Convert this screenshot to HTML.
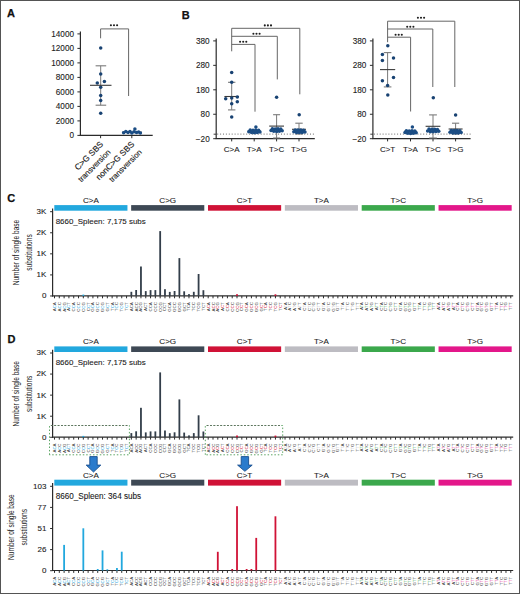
<!DOCTYPE html><html><head><meta charset="utf-8"><style>html,body{margin:0;padding:0;background:#fff;}svg{display:block;}text{font-family:"Liberation Sans", sans-serif;}</style></head><body>
<svg width="520" height="594" viewBox="0 0 520 594">
<rect x="0" y="0" width="520" height="594" fill="#fff"/>
<text x="7.1" y="16.8" font-size="11" font-weight="bold" fill="#111" stroke="#111" stroke-width="0.25">A</text>
<text x="181.7" y="18.5" font-size="11" font-weight="bold" fill="#111" stroke="#111" stroke-width="0.25">B</text>
<text x="7.2" y="201.7" font-size="11" font-weight="bold" fill="#111" stroke="#111" stroke-width="0.25">C</text>
<text x="7.4" y="343.1" font-size="11" font-weight="bold" fill="#111" stroke="#111" stroke-width="0.25">D</text>
<line x1="80.4" y1="31.4" x2="80.4" y2="136" stroke="#2b2b2b" stroke-width="1.2"/>
<line x1="79.8" y1="135.4" x2="152.7" y2="135.4" stroke="#2b2b2b" stroke-width="1.2"/>
<line x1="77.4" y1="135.4" x2="80.4" y2="135.4" stroke="#2b2b2b" stroke-width="1"/>
<text x="74" y="138.3" font-size="8.2" text-anchor="end" fill="#222" stroke="#222" stroke-width="0.1">0</text>
<line x1="77.4" y1="120.9" x2="80.4" y2="120.9" stroke="#2b2b2b" stroke-width="1"/>
<text x="74" y="123.8" font-size="8.2" text-anchor="end" fill="#222" stroke="#222" stroke-width="0.1">2000</text>
<line x1="77.4" y1="106.4" x2="80.4" y2="106.4" stroke="#2b2b2b" stroke-width="1"/>
<text x="74" y="109.3" font-size="8.2" text-anchor="end" fill="#222" stroke="#222" stroke-width="0.1">4000</text>
<line x1="77.4" y1="91.9" x2="80.4" y2="91.9" stroke="#2b2b2b" stroke-width="1"/>
<text x="74" y="94.8" font-size="8.2" text-anchor="end" fill="#222" stroke="#222" stroke-width="0.1">6000</text>
<line x1="77.4" y1="77.4" x2="80.4" y2="77.4" stroke="#2b2b2b" stroke-width="1"/>
<text x="74" y="80.3" font-size="8.2" text-anchor="end" fill="#222" stroke="#222" stroke-width="0.1">8000</text>
<line x1="77.4" y1="62.9" x2="80.4" y2="62.9" stroke="#2b2b2b" stroke-width="1"/>
<text x="74" y="65.8" font-size="8.2" text-anchor="end" fill="#222" stroke="#222" stroke-width="0.1">10000</text>
<line x1="77.4" y1="48.4" x2="80.4" y2="48.4" stroke="#2b2b2b" stroke-width="1"/>
<text x="74" y="51.3" font-size="8.2" text-anchor="end" fill="#222" stroke="#222" stroke-width="0.1">12000</text>
<line x1="77.4" y1="33.9" x2="80.4" y2="33.9" stroke="#2b2b2b" stroke-width="1"/>
<text x="74" y="36.8" font-size="8.2" text-anchor="end" fill="#222" stroke="#222" stroke-width="0.1">14000</text>
<line x1="100.6" y1="135.4" x2="100.6" y2="138.2" stroke="#2b2b2b" stroke-width="1"/>
<line x1="131.8" y1="135.4" x2="131.8" y2="138.2" stroke="#2b2b2b" stroke-width="1"/>
<path d="M100.6 38.3 V28.9 H128.6 V96" fill="none" stroke="#666666" stroke-width="1"/>
<circle cx="110.9" cy="25.3" r="1.05" fill="#1e1e1e"/>
<circle cx="114" cy="25.3" r="1.05" fill="#1e1e1e"/>
<circle cx="117.1" cy="25.3" r="1.05" fill="#1e1e1e"/>
<line x1="100.7" y1="65.8" x2="100.7" y2="105.2" stroke="#7a7a7a" stroke-width="1"/>
<line x1="95.6" y1="65.8" x2="106.2" y2="65.8" stroke="#7a7a7a" stroke-width="1.1"/>
<line x1="95.6" y1="105.2" x2="106.2" y2="105.2" stroke="#7a7a7a" stroke-width="1.1"/>
<circle cx="100.7" cy="48.1" r="1.75" fill="#184272"/>
<circle cx="100.7" cy="74.1" r="1.75" fill="#184272"/>
<circle cx="97.3" cy="83" r="1.75" fill="#184272"/>
<circle cx="104.4" cy="81.4" r="1.75" fill="#184272"/>
<circle cx="100.7" cy="87.3" r="1.75" fill="#184272"/>
<circle cx="100.7" cy="95.4" r="1.75" fill="#184272"/>
<circle cx="100.7" cy="100.4" r="1.75" fill="#184272"/>
<circle cx="100.7" cy="113.3" r="1.75" fill="#184272"/>
<line x1="90" y1="85.3" x2="111.5" y2="85.3" stroke="#3a3a3a" stroke-width="1.1"/>
<line x1="122" y1="132.2" x2="142" y2="132.2" stroke="#222" stroke-width="1"/>
<circle cx="123.6" cy="132.8" r="1.75" fill="#1b4d84"/>
<circle cx="125.8" cy="131.6" r="1.75" fill="#1b4d84"/>
<circle cx="128" cy="132.6" r="1.75" fill="#1b4d84"/>
<circle cx="130" cy="131.5" r="1.75" fill="#1b4d84"/>
<circle cx="131.8" cy="133" r="1.75" fill="#1b4d84"/>
<circle cx="134.9" cy="129.1" r="1.75" fill="#1b4d84"/>
<circle cx="134" cy="131.8" r="1.75" fill="#1b4d84"/>
<circle cx="136.5" cy="132.6" r="1.75" fill="#1b4d84"/>
<circle cx="138.6" cy="131.9" r="1.75" fill="#1b4d84"/>
<circle cx="140.4" cy="133" r="1.75" fill="#1b4d84"/>
<g transform="rotate(-45)" fill="#222" stroke="#222" stroke-width="0.15" text-anchor="end">
<text x="-29" y="175.8" font-size="8.4">C&gt;G SBS</text>
<text x="-29.3" y="186.5" font-size="7.8">transversion</text>
<text x="-7" y="197.8" font-size="8.4">nonC&gt;G SBS</text>
<text x="-7.3" y="208.5" font-size="7.8">transversion</text>
</g>
<line x1="216.2" y1="38.5" x2="216.2" y2="139" stroke="#2b2b2b" stroke-width="1.2"/>
<line x1="215.6" y1="138.7" x2="314.8" y2="138.7" stroke="#2b2b2b" stroke-width="1.2"/>
<line x1="213.6" y1="134.2" x2="216.2" y2="134.2" stroke="#2b2b2b" stroke-width="0.9"/>
<line x1="213.2" y1="40.9" x2="216.2" y2="40.9" stroke="#2b2b2b" stroke-width="1"/>
<text x="209.7" y="43.8" font-size="8.2" text-anchor="end" fill="#222" stroke="#222" stroke-width="0.1">380</text>
<line x1="213.2" y1="65.35" x2="216.2" y2="65.35" stroke="#2b2b2b" stroke-width="1"/>
<text x="209.7" y="68.25" font-size="8.2" text-anchor="end" fill="#222" stroke="#222" stroke-width="0.1">280</text>
<line x1="213.2" y1="89.8" x2="216.2" y2="89.8" stroke="#2b2b2b" stroke-width="1"/>
<text x="209.7" y="92.7" font-size="8.2" text-anchor="end" fill="#222" stroke="#222" stroke-width="0.1">180</text>
<line x1="213.2" y1="114.25" x2="216.2" y2="114.25" stroke="#2b2b2b" stroke-width="1"/>
<text x="209.7" y="117.15" font-size="8.2" text-anchor="end" fill="#222" stroke="#222" stroke-width="0.1">80</text>
<line x1="213.2" y1="138.7" x2="216.2" y2="138.7" stroke="#2b2b2b" stroke-width="1"/>
<text x="209.7" y="141.6" font-size="8.2" text-anchor="end" fill="#222" stroke="#222" stroke-width="0.1">−20</text>
<line x1="217.2" y1="134.1" x2="314.8" y2="134.1" stroke="#444" stroke-width="0.8" stroke-dasharray="1 1.9"/>
<line x1="231.7" y1="138.7" x2="231.7" y2="141.4" stroke="#2b2b2b" stroke-width="1"/>
<text x="231.7" y="151.5" font-size="8" text-anchor="middle" fill="#222" stroke="#222" stroke-width="0.1">C&gt;A</text>
<line x1="254.2" y1="138.7" x2="254.2" y2="141.4" stroke="#2b2b2b" stroke-width="1"/>
<text x="254.2" y="151.5" font-size="8" text-anchor="middle" fill="#222" stroke="#222" stroke-width="0.1">T&gt;A</text>
<line x1="276.6" y1="138.7" x2="276.6" y2="141.4" stroke="#2b2b2b" stroke-width="1"/>
<text x="276.6" y="151.5" font-size="8" text-anchor="middle" fill="#222" stroke="#222" stroke-width="0.1">T&gt;C</text>
<line x1="299" y1="138.7" x2="299" y2="141.4" stroke="#2b2b2b" stroke-width="1"/>
<text x="299" y="151.5" font-size="8" text-anchor="middle" fill="#222" stroke="#222" stroke-width="0.1">T&gt;G</text>
<path d="M231.7 28.3 H299.8 V94.3" fill="none" stroke="#666666" stroke-width="1"/>
<circle cx="264.8" cy="25.4" r="1.05" fill="#1e1e1e"/>
<circle cx="267.9" cy="25.4" r="1.05" fill="#1e1e1e"/>
<circle cx="271" cy="25.4" r="1.05" fill="#1e1e1e"/>
<path d="M231.7 36.3 H277.3 V79.4" fill="none" stroke="#666666" stroke-width="1"/>
<circle cx="253.4" cy="33.7" r="1.05" fill="#1e1e1e"/>
<circle cx="256.5" cy="33.7" r="1.05" fill="#1e1e1e"/>
<circle cx="259.6" cy="33.7" r="1.05" fill="#1e1e1e"/>
<path d="M231.7 44.4 H255 V111.7" fill="none" stroke="#666666" stroke-width="1"/>
<circle cx="240.1" cy="41.8" r="1.05" fill="#1e1e1e"/>
<circle cx="243.2" cy="41.8" r="1.05" fill="#1e1e1e"/>
<circle cx="246.3" cy="41.8" r="1.05" fill="#1e1e1e"/>
<line x1="231.7" y1="28.3" x2="231.7" y2="51.3" stroke="#666666" stroke-width="1"/>
<line x1="231.7" y1="82.3" x2="231.7" y2="109.9" stroke="#7a7a7a" stroke-width="1"/>
<line x1="228" y1="82.3" x2="235.4" y2="82.3" stroke="#7a7a7a" stroke-width="1.1"/>
<line x1="228" y1="109.9" x2="235.4" y2="109.9" stroke="#7a7a7a" stroke-width="1.1"/>
<line x1="224.4" y1="96.5" x2="239" y2="96.5" stroke="#3a3a3a" stroke-width="1.1"/>
<circle cx="231.7" cy="72.4" r="1.75" fill="#184272"/>
<circle cx="231.7" cy="82.3" r="1.75" fill="#184272"/>
<circle cx="225.7" cy="98.8" r="1.75" fill="#184272"/>
<circle cx="231.7" cy="98.1" r="1.75" fill="#184272"/>
<circle cx="237.3" cy="96.9" r="1.75" fill="#184272"/>
<circle cx="237.3" cy="101.7" r="1.75" fill="#184272"/>
<circle cx="231.7" cy="103.7" r="1.75" fill="#184272"/>
<circle cx="231.7" cy="117.1" r="1.75" fill="#184272"/>
<line x1="247.7" y1="131" x2="260.7" y2="131" stroke="#3a3a3a" stroke-width="1.1"/>
<circle cx="248.8" cy="131.8" r="1.75" fill="#1b4d84"/>
<circle cx="250.2" cy="130" r="1.75" fill="#1b4d84"/>
<circle cx="251.6" cy="132.6" r="1.75" fill="#1b4d84"/>
<circle cx="253" cy="130.2" r="1.75" fill="#1b4d84"/>
<circle cx="254.4" cy="132.7" r="1.75" fill="#1b4d84"/>
<circle cx="255.8" cy="130.1" r="1.75" fill="#1b4d84"/>
<circle cx="257.2" cy="132.5" r="1.75" fill="#1b4d84"/>
<circle cx="258.6" cy="130.3" r="1.75" fill="#1b4d84"/>
<circle cx="260" cy="132.1" r="1.75" fill="#1b4d84"/>
<circle cx="250.9" cy="131.5" r="1.75" fill="#1b4d84"/>
<circle cx="255.1" cy="131.4" r="1.75" fill="#1b4d84"/>
<circle cx="258" cy="131.6" r="1.75" fill="#1b4d84"/>
<circle cx="255.9" cy="126.9" r="1.75" fill="#1b4d84"/>
<line x1="276.6" y1="114.7" x2="276.6" y2="138" stroke="#7a7a7a" stroke-width="1"/>
<line x1="273.1" y1="114.7" x2="280.1" y2="114.7" stroke="#7a7a7a" stroke-width="1.1"/>
<line x1="273.1" y1="138" x2="280.1" y2="138" stroke="#7a7a7a" stroke-width="1.1"/>
<line x1="269.2" y1="126.1" x2="284" y2="126.1" stroke="#3a3a3a" stroke-width="1.1"/>
<circle cx="271" cy="130.5" r="1.75" fill="#1b4d84"/>
<circle cx="272.4" cy="128.7" r="1.75" fill="#1b4d84"/>
<circle cx="273.8" cy="131.3" r="1.75" fill="#1b4d84"/>
<circle cx="275.2" cy="128.9" r="1.75" fill="#1b4d84"/>
<circle cx="276.6" cy="131.4" r="1.75" fill="#1b4d84"/>
<circle cx="278" cy="128.8" r="1.75" fill="#1b4d84"/>
<circle cx="279.4" cy="131.2" r="1.75" fill="#1b4d84"/>
<circle cx="280.8" cy="129" r="1.75" fill="#1b4d84"/>
<circle cx="282.2" cy="130.8" r="1.75" fill="#1b4d84"/>
<circle cx="273.1" cy="130.2" r="1.75" fill="#1b4d84"/>
<circle cx="277.3" cy="130.1" r="1.75" fill="#1b4d84"/>
<circle cx="280.2" cy="130.3" r="1.75" fill="#1b4d84"/>
<circle cx="276.6" cy="97.3" r="1.75" fill="#184272"/>
<line x1="299" y1="123.2" x2="299" y2="134" stroke="#7a7a7a" stroke-width="1"/>
<line x1="295.3" y1="123.2" x2="302.7" y2="123.2" stroke="#7a7a7a" stroke-width="1.1"/>
<line x1="295.3" y1="134" x2="302.7" y2="134" stroke="#7a7a7a" stroke-width="1.1"/>
<line x1="292" y1="129.3" x2="306" y2="129.3" stroke="#3a3a3a" stroke-width="1.1"/>
<circle cx="293.8" cy="131.7" r="1.75" fill="#1b4d84"/>
<circle cx="295.2" cy="129.9" r="1.75" fill="#1b4d84"/>
<circle cx="296.6" cy="132.5" r="1.75" fill="#1b4d84"/>
<circle cx="298" cy="130.1" r="1.75" fill="#1b4d84"/>
<circle cx="299.4" cy="132.6" r="1.75" fill="#1b4d84"/>
<circle cx="300.8" cy="130" r="1.75" fill="#1b4d84"/>
<circle cx="302.2" cy="132.4" r="1.75" fill="#1b4d84"/>
<circle cx="303.6" cy="130.2" r="1.75" fill="#1b4d84"/>
<circle cx="305" cy="132" r="1.75" fill="#1b4d84"/>
<circle cx="295.9" cy="131.4" r="1.75" fill="#1b4d84"/>
<circle cx="300.1" cy="131.3" r="1.75" fill="#1b4d84"/>
<circle cx="303" cy="131.5" r="1.75" fill="#1b4d84"/>
<circle cx="299.2" cy="114.7" r="1.75" fill="#184272"/>
<line x1="372.9" y1="38.5" x2="372.9" y2="139" stroke="#2b2b2b" stroke-width="1.2"/>
<line x1="372.3" y1="138.7" x2="470.6" y2="138.7" stroke="#2b2b2b" stroke-width="1.2"/>
<line x1="370.3" y1="134.2" x2="372.9" y2="134.2" stroke="#2b2b2b" stroke-width="0.9"/>
<line x1="369.9" y1="40.9" x2="372.9" y2="40.9" stroke="#2b2b2b" stroke-width="1"/>
<text x="366.4" y="43.8" font-size="8.2" text-anchor="end" fill="#222" stroke="#222" stroke-width="0.1">380</text>
<line x1="369.9" y1="65.35" x2="372.9" y2="65.35" stroke="#2b2b2b" stroke-width="1"/>
<text x="366.4" y="68.25" font-size="8.2" text-anchor="end" fill="#222" stroke="#222" stroke-width="0.1">280</text>
<line x1="369.9" y1="89.8" x2="372.9" y2="89.8" stroke="#2b2b2b" stroke-width="1"/>
<text x="366.4" y="92.7" font-size="8.2" text-anchor="end" fill="#222" stroke="#222" stroke-width="0.1">180</text>
<line x1="369.9" y1="114.25" x2="372.9" y2="114.25" stroke="#2b2b2b" stroke-width="1"/>
<text x="366.4" y="117.15" font-size="8.2" text-anchor="end" fill="#222" stroke="#222" stroke-width="0.1">80</text>
<line x1="369.9" y1="138.7" x2="372.9" y2="138.7" stroke="#2b2b2b" stroke-width="1"/>
<text x="366.4" y="141.6" font-size="8.2" text-anchor="end" fill="#222" stroke="#222" stroke-width="0.1">−20</text>
<line x1="373.9" y1="134.1" x2="470.6" y2="134.1" stroke="#444" stroke-width="0.8" stroke-dasharray="1 1.9"/>
<line x1="387.6" y1="138.7" x2="387.6" y2="141.4" stroke="#2b2b2b" stroke-width="1"/>
<text x="387.6" y="151.5" font-size="8" text-anchor="middle" fill="#222" stroke="#222" stroke-width="0.1">C&gt;T</text>
<line x1="410.5" y1="138.7" x2="410.5" y2="141.4" stroke="#2b2b2b" stroke-width="1"/>
<text x="410.5" y="151.5" font-size="8" text-anchor="middle" fill="#222" stroke="#222" stroke-width="0.1">T&gt;A</text>
<line x1="433" y1="138.7" x2="433" y2="141.4" stroke="#2b2b2b" stroke-width="1"/>
<text x="433" y="151.5" font-size="8" text-anchor="middle" fill="#222" stroke="#222" stroke-width="0.1">T&gt;C</text>
<line x1="455.6" y1="138.7" x2="455.6" y2="141.4" stroke="#2b2b2b" stroke-width="1"/>
<text x="455.6" y="151.5" font-size="8" text-anchor="middle" fill="#222" stroke="#222" stroke-width="0.1">T&gt;G</text>
<path d="M387.6 21.2 H454.8 V87" fill="none" stroke="#666666" stroke-width="1"/>
<circle cx="417.9" cy="17.8" r="1.05" fill="#1e1e1e"/>
<circle cx="421" cy="17.8" r="1.05" fill="#1e1e1e"/>
<circle cx="424.1" cy="17.8" r="1.05" fill="#1e1e1e"/>
<path d="M387.6 29 H432.8 V87" fill="none" stroke="#666666" stroke-width="1"/>
<circle cx="407.2" cy="26.8" r="1.05" fill="#1e1e1e"/>
<circle cx="410.3" cy="26.8" r="1.05" fill="#1e1e1e"/>
<circle cx="413.4" cy="26.8" r="1.05" fill="#1e1e1e"/>
<path d="M387.6 37.2 H410.6 V111.5" fill="none" stroke="#666666" stroke-width="1"/>
<circle cx="395.6" cy="34.7" r="1.05" fill="#1e1e1e"/>
<circle cx="398.7" cy="34.7" r="1.05" fill="#1e1e1e"/>
<circle cx="401.8" cy="34.7" r="1.05" fill="#1e1e1e"/>
<line x1="387.6" y1="21.2" x2="387.6" y2="42.2" stroke="#666666" stroke-width="1"/>
<line x1="387.6" y1="52.6" x2="387.6" y2="86.9" stroke="#7a7a7a" stroke-width="1"/>
<line x1="383.8" y1="52.6" x2="391.4" y2="52.6" stroke="#7a7a7a" stroke-width="1.1"/>
<line x1="383.8" y1="86.9" x2="391.4" y2="86.9" stroke="#7a7a7a" stroke-width="1.1"/>
<line x1="380" y1="69.6" x2="395.2" y2="69.6" stroke="#3a3a3a" stroke-width="1.1"/>
<circle cx="387.8" cy="45.8" r="1.75" fill="#184272"/>
<circle cx="382.4" cy="54.5" r="1.75" fill="#184272"/>
<circle cx="393.5" cy="57.9" r="1.75" fill="#184272"/>
<circle cx="382.4" cy="60.5" r="1.75" fill="#184272"/>
<circle cx="393.5" cy="77.5" r="1.75" fill="#184272"/>
<circle cx="382.4" cy="80.8" r="1.75" fill="#184272"/>
<circle cx="387.6" cy="85.5" r="1.75" fill="#184272"/>
<circle cx="387.8" cy="94.9" r="1.75" fill="#184272"/>
<line x1="404" y1="131.3" x2="417" y2="131.3" stroke="#3a3a3a" stroke-width="1.1"/>
<circle cx="405" cy="132.5" r="1.75" fill="#1b4d84"/>
<circle cx="406.4" cy="130.7" r="1.75" fill="#1b4d84"/>
<circle cx="407.8" cy="133.3" r="1.75" fill="#1b4d84"/>
<circle cx="409.2" cy="130.9" r="1.75" fill="#1b4d84"/>
<circle cx="410.6" cy="133.4" r="1.75" fill="#1b4d84"/>
<circle cx="412" cy="130.8" r="1.75" fill="#1b4d84"/>
<circle cx="413.4" cy="133.2" r="1.75" fill="#1b4d84"/>
<circle cx="414.8" cy="131" r="1.75" fill="#1b4d84"/>
<circle cx="416.2" cy="132.8" r="1.75" fill="#1b4d84"/>
<circle cx="407.1" cy="132.2" r="1.75" fill="#1b4d84"/>
<circle cx="411.3" cy="132.1" r="1.75" fill="#1b4d84"/>
<circle cx="414.2" cy="132.3" r="1.75" fill="#1b4d84"/>
<circle cx="412.4" cy="127" r="1.75" fill="#1b4d84"/>
<line x1="433" y1="114.9" x2="433" y2="138" stroke="#7a7a7a" stroke-width="1"/>
<line x1="429.1" y1="114.9" x2="436.9" y2="114.9" stroke="#7a7a7a" stroke-width="1.1"/>
<line x1="429.1" y1="138" x2="436.9" y2="138" stroke="#7a7a7a" stroke-width="1.1"/>
<line x1="425.6" y1="126.3" x2="440.4" y2="126.3" stroke="#3a3a3a" stroke-width="1.1"/>
<circle cx="427.6" cy="130.9" r="1.75" fill="#1b4d84"/>
<circle cx="429" cy="129.1" r="1.75" fill="#1b4d84"/>
<circle cx="430.4" cy="131.7" r="1.75" fill="#1b4d84"/>
<circle cx="431.8" cy="129.3" r="1.75" fill="#1b4d84"/>
<circle cx="433.2" cy="131.8" r="1.75" fill="#1b4d84"/>
<circle cx="434.6" cy="129.2" r="1.75" fill="#1b4d84"/>
<circle cx="436" cy="131.6" r="1.75" fill="#1b4d84"/>
<circle cx="437.4" cy="129.4" r="1.75" fill="#1b4d84"/>
<circle cx="438.8" cy="131.2" r="1.75" fill="#1b4d84"/>
<circle cx="429.7" cy="130.6" r="1.75" fill="#1b4d84"/>
<circle cx="433.9" cy="130.5" r="1.75" fill="#1b4d84"/>
<circle cx="436.8" cy="130.7" r="1.75" fill="#1b4d84"/>
<circle cx="433.3" cy="97.7" r="1.75" fill="#184272"/>
<line x1="455.6" y1="123.2" x2="455.6" y2="134" stroke="#7a7a7a" stroke-width="1"/>
<line x1="452" y1="123.2" x2="459.2" y2="123.2" stroke="#7a7a7a" stroke-width="1.1"/>
<line x1="452" y1="134" x2="459.2" y2="134" stroke="#7a7a7a" stroke-width="1.1"/>
<line x1="448.6" y1="129" x2="462.6" y2="129" stroke="#3a3a3a" stroke-width="1.1"/>
<circle cx="450" cy="132.2" r="1.75" fill="#1b4d84"/>
<circle cx="451.4" cy="130.4" r="1.75" fill="#1b4d84"/>
<circle cx="452.8" cy="133" r="1.75" fill="#1b4d84"/>
<circle cx="454.2" cy="130.6" r="1.75" fill="#1b4d84"/>
<circle cx="455.6" cy="133.1" r="1.75" fill="#1b4d84"/>
<circle cx="457" cy="130.5" r="1.75" fill="#1b4d84"/>
<circle cx="458.4" cy="132.9" r="1.75" fill="#1b4d84"/>
<circle cx="459.8" cy="130.7" r="1.75" fill="#1b4d84"/>
<circle cx="461.2" cy="132.5" r="1.75" fill="#1b4d84"/>
<circle cx="452.1" cy="131.9" r="1.75" fill="#1b4d84"/>
<circle cx="456.3" cy="131.8" r="1.75" fill="#1b4d84"/>
<circle cx="459.2" cy="132" r="1.75" fill="#1b4d84"/>
<circle cx="455.6" cy="114.9" r="1.75" fill="#184272"/>
<rect x="54.3" y="205.1" width="73.15" height="5.6" fill="#22a8de"/>
<text x="90.87" y="203.1" font-size="8.1" text-anchor="middle" fill="#222" stroke="#222" stroke-width="0.1">C&gt;A</text>
<rect x="131.15" y="205.1" width="73.14" height="5.6" fill="#3e4955"/>
<text x="167.72" y="203.1" font-size="8.1" text-anchor="middle" fill="#222" stroke="#222" stroke-width="0.1">C&gt;G</text>
<rect x="208" y="205.1" width="73.14" height="5.6" fill="#d01236"/>
<text x="244.57" y="203.1" font-size="8.1" text-anchor="middle" fill="#222" stroke="#222" stroke-width="0.1">C&gt;T</text>
<rect x="284.84" y="205.1" width="73.14" height="5.6" fill="#bdbcc2"/>
<text x="321.42" y="203.1" font-size="8.1" text-anchor="middle" fill="#222" stroke="#222" stroke-width="0.1">T&gt;A</text>
<rect x="361.69" y="205.1" width="73.14" height="5.6" fill="#3ba84c"/>
<text x="398.26" y="203.1" font-size="8.1" text-anchor="middle" fill="#222" stroke="#222" stroke-width="0.1">T&gt;C</text>
<rect x="438.54" y="205.1" width="73.14" height="5.6" fill="#e3178a"/>
<text x="475.11" y="203.1" font-size="8.1" text-anchor="middle" fill="#222" stroke="#222" stroke-width="0.1">T&gt;G</text>
<line x1="52.6" y1="208.4" x2="52.6" y2="296.5" stroke="#2b2b2b" stroke-width="1.2"/>
<line x1="52" y1="295.9" x2="513.2" y2="295.9" stroke="#2b2b2b" stroke-width="1.2"/>
<line x1="50.1" y1="211.7" x2="52.6" y2="211.7" stroke="#2b2b2b" stroke-width="1"/>
<text x="46.4" y="214.1" font-size="8" text-anchor="end" fill="#222" stroke="#222" stroke-width="0.1">3K</text>
<line x1="50.1" y1="232.77" x2="52.6" y2="232.77" stroke="#2b2b2b" stroke-width="1"/>
<text x="46.4" y="235.17" font-size="8" text-anchor="end" fill="#222" stroke="#222" stroke-width="0.1">2K</text>
<line x1="50.1" y1="253.84" x2="52.6" y2="253.84" stroke="#2b2b2b" stroke-width="1"/>
<text x="46.4" y="256.24" font-size="8" text-anchor="end" fill="#222" stroke="#222" stroke-width="0.1">1K</text>
<line x1="50.1" y1="274.91" x2="52.6" y2="274.91" stroke="#2b2b2b" stroke-width="1"/>
<text x="46.4" y="277.31" font-size="8" text-anchor="end" fill="#222" stroke="#222" stroke-width="0.1">1K</text>
<line x1="50.1" y1="295.98" x2="52.6" y2="295.98" stroke="#2b2b2b" stroke-width="1"/>
<text x="46.4" y="298.38" font-size="8" text-anchor="end" fill="#222" stroke="#222" stroke-width="0.1">0</text>
<line x1="54.5" y1="295.9" x2="54.5" y2="298.3" stroke="#2b2b2b" stroke-width="1"/>
<line x1="59.3" y1="295.9" x2="59.3" y2="298.3" stroke="#2b2b2b" stroke-width="1"/>
<line x1="64.11" y1="295.9" x2="64.11" y2="298.3" stroke="#2b2b2b" stroke-width="1"/>
<line x1="68.91" y1="295.9" x2="68.91" y2="298.3" stroke="#2b2b2b" stroke-width="1"/>
<line x1="73.71" y1="295.9" x2="73.71" y2="298.3" stroke="#2b2b2b" stroke-width="1"/>
<line x1="78.52" y1="295.9" x2="78.52" y2="298.3" stroke="#2b2b2b" stroke-width="1"/>
<line x1="83.32" y1="295.9" x2="83.32" y2="298.3" stroke="#2b2b2b" stroke-width="1"/>
<rect x="82.42" y="294.6" width="1.8" height="1.3" fill="#22a8de"/>
<line x1="88.12" y1="295.9" x2="88.12" y2="298.3" stroke="#2b2b2b" stroke-width="1"/>
<line x1="92.92" y1="295.9" x2="92.92" y2="298.3" stroke="#2b2b2b" stroke-width="1"/>
<line x1="97.73" y1="295.9" x2="97.73" y2="298.3" stroke="#2b2b2b" stroke-width="1"/>
<line x1="102.53" y1="295.9" x2="102.53" y2="298.3" stroke="#2b2b2b" stroke-width="1"/>
<line x1="107.33" y1="295.9" x2="107.33" y2="298.3" stroke="#2b2b2b" stroke-width="1"/>
<line x1="112.14" y1="295.9" x2="112.14" y2="298.3" stroke="#2b2b2b" stroke-width="1"/>
<line x1="116.94" y1="295.9" x2="116.94" y2="298.3" stroke="#2b2b2b" stroke-width="1"/>
<line x1="121.74" y1="295.9" x2="121.74" y2="298.3" stroke="#2b2b2b" stroke-width="1"/>
<line x1="126.55" y1="295.9" x2="126.55" y2="298.3" stroke="#2b2b2b" stroke-width="1"/>
<line x1="131.35" y1="295.9" x2="131.35" y2="298.3" stroke="#2b2b2b" stroke-width="1"/>
<rect x="130.45" y="291.8" width="1.8" height="4.1" fill="#333e4a"/>
<line x1="136.15" y1="295.9" x2="136.15" y2="298.3" stroke="#2b2b2b" stroke-width="1"/>
<rect x="135.25" y="290" width="1.8" height="5.9" fill="#333e4a"/>
<line x1="140.95" y1="295.9" x2="140.95" y2="298.3" stroke="#2b2b2b" stroke-width="1"/>
<rect x="140.05" y="266.5" width="1.8" height="29.4" fill="#333e4a"/>
<line x1="145.76" y1="295.9" x2="145.76" y2="298.3" stroke="#2b2b2b" stroke-width="1"/>
<rect x="144.86" y="291.1" width="1.8" height="4.8" fill="#333e4a"/>
<line x1="150.56" y1="295.9" x2="150.56" y2="298.3" stroke="#2b2b2b" stroke-width="1"/>
<rect x="149.66" y="290.1" width="1.8" height="5.8" fill="#333e4a"/>
<line x1="155.36" y1="295.9" x2="155.36" y2="298.3" stroke="#2b2b2b" stroke-width="1"/>
<rect x="154.46" y="290.1" width="1.8" height="5.8" fill="#333e4a"/>
<line x1="160.17" y1="295.9" x2="160.17" y2="298.3" stroke="#2b2b2b" stroke-width="1"/>
<rect x="159.27" y="231.1" width="1.8" height="64.8" fill="#333e4a"/>
<line x1="164.97" y1="295.9" x2="164.97" y2="298.3" stroke="#2b2b2b" stroke-width="1"/>
<rect x="164.07" y="289.2" width="1.8" height="6.7" fill="#333e4a"/>
<line x1="169.77" y1="295.9" x2="169.77" y2="298.3" stroke="#2b2b2b" stroke-width="1"/>
<rect x="168.87" y="291.9" width="1.8" height="4" fill="#333e4a"/>
<line x1="174.57" y1="295.9" x2="174.57" y2="298.3" stroke="#2b2b2b" stroke-width="1"/>
<rect x="173.67" y="291" width="1.8" height="4.9" fill="#333e4a"/>
<line x1="179.38" y1="295.9" x2="179.38" y2="298.3" stroke="#2b2b2b" stroke-width="1"/>
<rect x="178.48" y="258.1" width="1.8" height="37.8" fill="#333e4a"/>
<line x1="184.18" y1="295.9" x2="184.18" y2="298.3" stroke="#2b2b2b" stroke-width="1"/>
<rect x="183.28" y="291.3" width="1.8" height="4.6" fill="#333e4a"/>
<line x1="188.98" y1="295.9" x2="188.98" y2="298.3" stroke="#2b2b2b" stroke-width="1"/>
<rect x="188.08" y="294.1" width="1.8" height="1.8" fill="#333e4a"/>
<line x1="193.79" y1="295.9" x2="193.79" y2="298.3" stroke="#2b2b2b" stroke-width="1"/>
<rect x="192.89" y="291.8" width="1.8" height="4.1" fill="#333e4a"/>
<line x1="198.59" y1="295.9" x2="198.59" y2="298.3" stroke="#2b2b2b" stroke-width="1"/>
<rect x="197.69" y="274" width="1.8" height="21.9" fill="#333e4a"/>
<line x1="203.39" y1="295.9" x2="203.39" y2="298.3" stroke="#2b2b2b" stroke-width="1"/>
<rect x="202.49" y="290.2" width="1.8" height="5.7" fill="#333e4a"/>
<line x1="208.2" y1="295.9" x2="208.2" y2="298.3" stroke="#2b2b2b" stroke-width="1"/>
<line x1="213" y1="295.9" x2="213" y2="298.3" stroke="#2b2b2b" stroke-width="1"/>
<line x1="217.8" y1="295.9" x2="217.8" y2="298.3" stroke="#2b2b2b" stroke-width="1"/>
<line x1="222.6" y1="295.9" x2="222.6" y2="298.3" stroke="#2b2b2b" stroke-width="1"/>
<line x1="227.41" y1="295.9" x2="227.41" y2="298.3" stroke="#2b2b2b" stroke-width="1"/>
<line x1="232.21" y1="295.9" x2="232.21" y2="298.3" stroke="#2b2b2b" stroke-width="1"/>
<line x1="237.01" y1="295.9" x2="237.01" y2="298.3" stroke="#2b2b2b" stroke-width="1"/>
<rect x="236.11" y="294.2" width="1.8" height="1.7" fill="#d01236"/>
<line x1="241.82" y1="295.9" x2="241.82" y2="298.3" stroke="#2b2b2b" stroke-width="1"/>
<line x1="246.62" y1="295.9" x2="246.62" y2="298.3" stroke="#2b2b2b" stroke-width="1"/>
<line x1="251.42" y1="295.9" x2="251.42" y2="298.3" stroke="#2b2b2b" stroke-width="1"/>
<line x1="256.23" y1="295.9" x2="256.23" y2="298.3" stroke="#2b2b2b" stroke-width="1"/>
<line x1="261.03" y1="295.9" x2="261.03" y2="298.3" stroke="#2b2b2b" stroke-width="1"/>
<line x1="265.83" y1="295.9" x2="265.83" y2="298.3" stroke="#2b2b2b" stroke-width="1"/>
<line x1="270.63" y1="295.9" x2="270.63" y2="298.3" stroke="#2b2b2b" stroke-width="1"/>
<line x1="275.44" y1="295.9" x2="275.44" y2="298.3" stroke="#2b2b2b" stroke-width="1"/>
<rect x="274.54" y="294.3" width="1.8" height="1.6" fill="#d01236"/>
<line x1="280.24" y1="295.9" x2="280.24" y2="298.3" stroke="#2b2b2b" stroke-width="1"/>
<line x1="285.04" y1="295.9" x2="285.04" y2="298.3" stroke="#2b2b2b" stroke-width="1"/>
<line x1="289.85" y1="295.9" x2="289.85" y2="298.3" stroke="#2b2b2b" stroke-width="1"/>
<line x1="294.65" y1="295.9" x2="294.65" y2="298.3" stroke="#2b2b2b" stroke-width="1"/>
<line x1="299.45" y1="295.9" x2="299.45" y2="298.3" stroke="#2b2b2b" stroke-width="1"/>
<line x1="304.26" y1="295.9" x2="304.26" y2="298.3" stroke="#2b2b2b" stroke-width="1"/>
<line x1="309.06" y1="295.9" x2="309.06" y2="298.3" stroke="#2b2b2b" stroke-width="1"/>
<line x1="313.86" y1="295.9" x2="313.86" y2="298.3" stroke="#2b2b2b" stroke-width="1"/>
<line x1="318.67" y1="295.9" x2="318.67" y2="298.3" stroke="#2b2b2b" stroke-width="1"/>
<line x1="323.47" y1="295.9" x2="323.47" y2="298.3" stroke="#2b2b2b" stroke-width="1"/>
<line x1="328.27" y1="295.9" x2="328.27" y2="298.3" stroke="#2b2b2b" stroke-width="1"/>
<line x1="333.07" y1="295.9" x2="333.07" y2="298.3" stroke="#2b2b2b" stroke-width="1"/>
<line x1="337.88" y1="295.9" x2="337.88" y2="298.3" stroke="#2b2b2b" stroke-width="1"/>
<line x1="342.68" y1="295.9" x2="342.68" y2="298.3" stroke="#2b2b2b" stroke-width="1"/>
<line x1="347.48" y1="295.9" x2="347.48" y2="298.3" stroke="#2b2b2b" stroke-width="1"/>
<line x1="352.29" y1="295.9" x2="352.29" y2="298.3" stroke="#2b2b2b" stroke-width="1"/>
<line x1="357.09" y1="295.9" x2="357.09" y2="298.3" stroke="#2b2b2b" stroke-width="1"/>
<line x1="361.89" y1="295.9" x2="361.89" y2="298.3" stroke="#2b2b2b" stroke-width="1"/>
<line x1="366.69" y1="295.9" x2="366.69" y2="298.3" stroke="#2b2b2b" stroke-width="1"/>
<line x1="371.5" y1="295.9" x2="371.5" y2="298.3" stroke="#2b2b2b" stroke-width="1"/>
<line x1="376.3" y1="295.9" x2="376.3" y2="298.3" stroke="#2b2b2b" stroke-width="1"/>
<line x1="381.1" y1="295.9" x2="381.1" y2="298.3" stroke="#2b2b2b" stroke-width="1"/>
<line x1="385.91" y1="295.9" x2="385.91" y2="298.3" stroke="#2b2b2b" stroke-width="1"/>
<line x1="390.71" y1="295.9" x2="390.71" y2="298.3" stroke="#2b2b2b" stroke-width="1"/>
<line x1="395.51" y1="295.9" x2="395.51" y2="298.3" stroke="#2b2b2b" stroke-width="1"/>
<line x1="400.32" y1="295.9" x2="400.32" y2="298.3" stroke="#2b2b2b" stroke-width="1"/>
<line x1="405.12" y1="295.9" x2="405.12" y2="298.3" stroke="#2b2b2b" stroke-width="1"/>
<line x1="409.92" y1="295.9" x2="409.92" y2="298.3" stroke="#2b2b2b" stroke-width="1"/>
<line x1="414.73" y1="295.9" x2="414.73" y2="298.3" stroke="#2b2b2b" stroke-width="1"/>
<line x1="419.53" y1="295.9" x2="419.53" y2="298.3" stroke="#2b2b2b" stroke-width="1"/>
<line x1="424.33" y1="295.9" x2="424.33" y2="298.3" stroke="#2b2b2b" stroke-width="1"/>
<line x1="429.13" y1="295.9" x2="429.13" y2="298.3" stroke="#2b2b2b" stroke-width="1"/>
<line x1="433.94" y1="295.9" x2="433.94" y2="298.3" stroke="#2b2b2b" stroke-width="1"/>
<line x1="438.74" y1="295.9" x2="438.74" y2="298.3" stroke="#2b2b2b" stroke-width="1"/>
<line x1="443.54" y1="295.9" x2="443.54" y2="298.3" stroke="#2b2b2b" stroke-width="1"/>
<line x1="448.35" y1="295.9" x2="448.35" y2="298.3" stroke="#2b2b2b" stroke-width="1"/>
<line x1="453.15" y1="295.9" x2="453.15" y2="298.3" stroke="#2b2b2b" stroke-width="1"/>
<line x1="457.95" y1="295.9" x2="457.95" y2="298.3" stroke="#2b2b2b" stroke-width="1"/>
<line x1="462.75" y1="295.9" x2="462.75" y2="298.3" stroke="#2b2b2b" stroke-width="1"/>
<line x1="467.56" y1="295.9" x2="467.56" y2="298.3" stroke="#2b2b2b" stroke-width="1"/>
<line x1="472.36" y1="295.9" x2="472.36" y2="298.3" stroke="#2b2b2b" stroke-width="1"/>
<line x1="477.16" y1="295.9" x2="477.16" y2="298.3" stroke="#2b2b2b" stroke-width="1"/>
<line x1="481.97" y1="295.9" x2="481.97" y2="298.3" stroke="#2b2b2b" stroke-width="1"/>
<line x1="486.77" y1="295.9" x2="486.77" y2="298.3" stroke="#2b2b2b" stroke-width="1"/>
<line x1="491.57" y1="295.9" x2="491.57" y2="298.3" stroke="#2b2b2b" stroke-width="1"/>
<line x1="496.38" y1="295.9" x2="496.38" y2="298.3" stroke="#2b2b2b" stroke-width="1"/>
<line x1="501.18" y1="295.9" x2="501.18" y2="298.3" stroke="#2b2b2b" stroke-width="1"/>
<line x1="505.98" y1="295.9" x2="505.98" y2="298.3" stroke="#2b2b2b" stroke-width="1"/>
<line x1="510.78" y1="295.9" x2="510.78" y2="298.3" stroke="#2b2b2b" stroke-width="1"/>
<g font-size="4.4" text-anchor="end">
<text transform="translate(56 302.2) rotate(-90)" fill="#333">A<tspan fill="#22a8de">C</tspan>A</text>
<text transform="translate(60.8 302.2) rotate(-90)" fill="#333">A<tspan fill="#22a8de">C</tspan>C</text>
<text transform="translate(65.61 302.2) rotate(-90)" fill="#333">A<tspan fill="#22a8de">C</tspan>G</text>
<text transform="translate(70.41 302.2) rotate(-90)" fill="#333">A<tspan fill="#22a8de">C</tspan>T</text>
<text transform="translate(75.21 302.2) rotate(-90)" fill="#333">C<tspan fill="#22a8de">C</tspan>A</text>
<text transform="translate(80.02 302.2) rotate(-90)" fill="#333">C<tspan fill="#22a8de">C</tspan>C</text>
<text transform="translate(84.82 302.2) rotate(-90)" fill="#333">C<tspan fill="#22a8de">C</tspan>G</text>
<text transform="translate(89.62 302.2) rotate(-90)" fill="#333">C<tspan fill="#22a8de">C</tspan>T</text>
<text transform="translate(94.42 302.2) rotate(-90)" fill="#333">G<tspan fill="#22a8de">C</tspan>A</text>
<text transform="translate(99.23 302.2) rotate(-90)" fill="#333">G<tspan fill="#22a8de">C</tspan>C</text>
<text transform="translate(104.03 302.2) rotate(-90)" fill="#333">G<tspan fill="#22a8de">C</tspan>G</text>
<text transform="translate(108.83 302.2) rotate(-90)" fill="#333">G<tspan fill="#22a8de">C</tspan>T</text>
<text transform="translate(113.64 302.2) rotate(-90)" fill="#333">T<tspan fill="#22a8de">C</tspan>A</text>
<text transform="translate(118.44 302.2) rotate(-90)" fill="#333">T<tspan fill="#22a8de">C</tspan>C</text>
<text transform="translate(123.24 302.2) rotate(-90)" fill="#333">T<tspan fill="#22a8de">C</tspan>G</text>
<text transform="translate(128.05 302.2) rotate(-90)" fill="#333">T<tspan fill="#22a8de">C</tspan>T</text>
<text transform="translate(132.85 302.2) rotate(-90)" fill="#333">A<tspan fill="#3e4955">C</tspan>A</text>
<text transform="translate(137.65 302.2) rotate(-90)" fill="#333">A<tspan fill="#3e4955">C</tspan>C</text>
<text transform="translate(142.45 302.2) rotate(-90)" fill="#333">A<tspan fill="#3e4955">C</tspan>G</text>
<text transform="translate(147.26 302.2) rotate(-90)" fill="#333">A<tspan fill="#3e4955">C</tspan>T</text>
<text transform="translate(152.06 302.2) rotate(-90)" fill="#333">C<tspan fill="#3e4955">C</tspan>A</text>
<text transform="translate(156.86 302.2) rotate(-90)" fill="#333">C<tspan fill="#3e4955">C</tspan>C</text>
<text transform="translate(161.67 302.2) rotate(-90)" fill="#333">C<tspan fill="#3e4955">C</tspan>G</text>
<text transform="translate(166.47 302.2) rotate(-90)" fill="#333">C<tspan fill="#3e4955">C</tspan>T</text>
<text transform="translate(171.27 302.2) rotate(-90)" fill="#333">G<tspan fill="#3e4955">C</tspan>A</text>
<text transform="translate(176.07 302.2) rotate(-90)" fill="#333">G<tspan fill="#3e4955">C</tspan>C</text>
<text transform="translate(180.88 302.2) rotate(-90)" fill="#333">G<tspan fill="#3e4955">C</tspan>G</text>
<text transform="translate(185.68 302.2) rotate(-90)" fill="#333">G<tspan fill="#3e4955">C</tspan>T</text>
<text transform="translate(190.48 302.2) rotate(-90)" fill="#333">T<tspan fill="#3e4955">C</tspan>A</text>
<text transform="translate(195.29 302.2) rotate(-90)" fill="#333">T<tspan fill="#3e4955">C</tspan>C</text>
<text transform="translate(200.09 302.2) rotate(-90)" fill="#333">T<tspan fill="#3e4955">C</tspan>G</text>
<text transform="translate(204.89 302.2) rotate(-90)" fill="#333">T<tspan fill="#3e4955">C</tspan>T</text>
<text transform="translate(209.7 302.2) rotate(-90)" fill="#333">A<tspan fill="#d01236">C</tspan>A</text>
<text transform="translate(214.5 302.2) rotate(-90)" fill="#333">A<tspan fill="#d01236">C</tspan>C</text>
<text transform="translate(219.3 302.2) rotate(-90)" fill="#333">A<tspan fill="#d01236">C</tspan>G</text>
<text transform="translate(224.1 302.2) rotate(-90)" fill="#333">A<tspan fill="#d01236">C</tspan>T</text>
<text transform="translate(228.91 302.2) rotate(-90)" fill="#333">C<tspan fill="#d01236">C</tspan>A</text>
<text transform="translate(233.71 302.2) rotate(-90)" fill="#333">C<tspan fill="#d01236">C</tspan>C</text>
<text transform="translate(238.51 302.2) rotate(-90)" fill="#333">C<tspan fill="#d01236">C</tspan>G</text>
<text transform="translate(243.32 302.2) rotate(-90)" fill="#333">C<tspan fill="#d01236">C</tspan>T</text>
<text transform="translate(248.12 302.2) rotate(-90)" fill="#333">G<tspan fill="#d01236">C</tspan>A</text>
<text transform="translate(252.92 302.2) rotate(-90)" fill="#333">G<tspan fill="#d01236">C</tspan>C</text>
<text transform="translate(257.73 302.2) rotate(-90)" fill="#333">G<tspan fill="#d01236">C</tspan>G</text>
<text transform="translate(262.53 302.2) rotate(-90)" fill="#333">G<tspan fill="#d01236">C</tspan>T</text>
<text transform="translate(267.33 302.2) rotate(-90)" fill="#333">T<tspan fill="#d01236">C</tspan>A</text>
<text transform="translate(272.13 302.2) rotate(-90)" fill="#333">T<tspan fill="#d01236">C</tspan>C</text>
<text transform="translate(276.94 302.2) rotate(-90)" fill="#333">T<tspan fill="#d01236">C</tspan>G</text>
<text transform="translate(281.74 302.2) rotate(-90)" fill="#333">T<tspan fill="#d01236">C</tspan>T</text>
<text transform="translate(286.54 302.2) rotate(-90)" fill="#333">A<tspan fill="#bdbcc2">T</tspan>A</text>
<text transform="translate(291.35 302.2) rotate(-90)" fill="#333">A<tspan fill="#bdbcc2">T</tspan>C</text>
<text transform="translate(296.15 302.2) rotate(-90)" fill="#333">A<tspan fill="#bdbcc2">T</tspan>G</text>
<text transform="translate(300.95 302.2) rotate(-90)" fill="#333">A<tspan fill="#bdbcc2">T</tspan>T</text>
<text transform="translate(305.76 302.2) rotate(-90)" fill="#333">C<tspan fill="#bdbcc2">T</tspan>A</text>
<text transform="translate(310.56 302.2) rotate(-90)" fill="#333">C<tspan fill="#bdbcc2">T</tspan>C</text>
<text transform="translate(315.36 302.2) rotate(-90)" fill="#333">C<tspan fill="#bdbcc2">T</tspan>G</text>
<text transform="translate(320.17 302.2) rotate(-90)" fill="#333">C<tspan fill="#bdbcc2">T</tspan>T</text>
<text transform="translate(324.97 302.2) rotate(-90)" fill="#333">G<tspan fill="#bdbcc2">T</tspan>A</text>
<text transform="translate(329.77 302.2) rotate(-90)" fill="#333">G<tspan fill="#bdbcc2">T</tspan>C</text>
<text transform="translate(334.57 302.2) rotate(-90)" fill="#333">G<tspan fill="#bdbcc2">T</tspan>G</text>
<text transform="translate(339.38 302.2) rotate(-90)" fill="#333">G<tspan fill="#bdbcc2">T</tspan>T</text>
<text transform="translate(344.18 302.2) rotate(-90)" fill="#333">T<tspan fill="#bdbcc2">T</tspan>A</text>
<text transform="translate(348.98 302.2) rotate(-90)" fill="#333">T<tspan fill="#bdbcc2">T</tspan>C</text>
<text transform="translate(353.79 302.2) rotate(-90)" fill="#333">T<tspan fill="#bdbcc2">T</tspan>G</text>
<text transform="translate(358.59 302.2) rotate(-90)" fill="#333">T<tspan fill="#bdbcc2">T</tspan>T</text>
<text transform="translate(363.39 302.2) rotate(-90)" fill="#333">A<tspan fill="#3ba84c">T</tspan>A</text>
<text transform="translate(368.19 302.2) rotate(-90)" fill="#333">A<tspan fill="#3ba84c">T</tspan>C</text>
<text transform="translate(373 302.2) rotate(-90)" fill="#333">A<tspan fill="#3ba84c">T</tspan>G</text>
<text transform="translate(377.8 302.2) rotate(-90)" fill="#333">A<tspan fill="#3ba84c">T</tspan>T</text>
<text transform="translate(382.6 302.2) rotate(-90)" fill="#333">C<tspan fill="#3ba84c">T</tspan>A</text>
<text transform="translate(387.41 302.2) rotate(-90)" fill="#333">C<tspan fill="#3ba84c">T</tspan>C</text>
<text transform="translate(392.21 302.2) rotate(-90)" fill="#333">C<tspan fill="#3ba84c">T</tspan>G</text>
<text transform="translate(397.01 302.2) rotate(-90)" fill="#333">C<tspan fill="#3ba84c">T</tspan>T</text>
<text transform="translate(401.82 302.2) rotate(-90)" fill="#333">G<tspan fill="#3ba84c">T</tspan>A</text>
<text transform="translate(406.62 302.2) rotate(-90)" fill="#333">G<tspan fill="#3ba84c">T</tspan>C</text>
<text transform="translate(411.42 302.2) rotate(-90)" fill="#333">G<tspan fill="#3ba84c">T</tspan>G</text>
<text transform="translate(416.23 302.2) rotate(-90)" fill="#333">G<tspan fill="#3ba84c">T</tspan>T</text>
<text transform="translate(421.03 302.2) rotate(-90)" fill="#333">T<tspan fill="#3ba84c">T</tspan>A</text>
<text transform="translate(425.83 302.2) rotate(-90)" fill="#333">T<tspan fill="#3ba84c">T</tspan>C</text>
<text transform="translate(430.63 302.2) rotate(-90)" fill="#333">T<tspan fill="#3ba84c">T</tspan>G</text>
<text transform="translate(435.44 302.2) rotate(-90)" fill="#333">T<tspan fill="#3ba84c">T</tspan>T</text>
<text transform="translate(440.24 302.2) rotate(-90)" fill="#333">A<tspan fill="#e3178a">T</tspan>A</text>
<text transform="translate(445.04 302.2) rotate(-90)" fill="#333">A<tspan fill="#e3178a">T</tspan>C</text>
<text transform="translate(449.85 302.2) rotate(-90)" fill="#333">A<tspan fill="#e3178a">T</tspan>G</text>
<text transform="translate(454.65 302.2) rotate(-90)" fill="#333">A<tspan fill="#e3178a">T</tspan>T</text>
<text transform="translate(459.45 302.2) rotate(-90)" fill="#333">C<tspan fill="#e3178a">T</tspan>A</text>
<text transform="translate(464.25 302.2) rotate(-90)" fill="#333">C<tspan fill="#e3178a">T</tspan>C</text>
<text transform="translate(469.06 302.2) rotate(-90)" fill="#333">C<tspan fill="#e3178a">T</tspan>G</text>
<text transform="translate(473.86 302.2) rotate(-90)" fill="#333">C<tspan fill="#e3178a">T</tspan>T</text>
<text transform="translate(478.66 302.2) rotate(-90)" fill="#333">G<tspan fill="#e3178a">T</tspan>A</text>
<text transform="translate(483.47 302.2) rotate(-90)" fill="#333">G<tspan fill="#e3178a">T</tspan>C</text>
<text transform="translate(488.27 302.2) rotate(-90)" fill="#333">G<tspan fill="#e3178a">T</tspan>G</text>
<text transform="translate(493.07 302.2) rotate(-90)" fill="#333">G<tspan fill="#e3178a">T</tspan>T</text>
<text transform="translate(497.88 302.2) rotate(-90)" fill="#333">T<tspan fill="#e3178a">T</tspan>A</text>
<text transform="translate(502.68 302.2) rotate(-90)" fill="#333">T<tspan fill="#e3178a">T</tspan>C</text>
<text transform="translate(507.48 302.2) rotate(-90)" fill="#333">T<tspan fill="#e3178a">T</tspan>G</text>
<text transform="translate(512.28 302.2) rotate(-90)" fill="#333">T<tspan fill="#e3178a">T</tspan>T</text>
</g>
<text x="55.7" y="224.1" font-size="7.95" text-anchor="start" fill="#222" stroke="#222" stroke-width="0.1">8660_Spleen: 7,175 subs</text>
<text transform="translate(18.95 252.54) rotate(-90) scale(0.8 1)" font-size="8.2" text-anchor="middle" fill="#222">Number of single base</text>
<text transform="translate(31.7 252.54) rotate(-90) scale(0.8 1)" font-size="8.2" text-anchor="middle" fill="#222">substitutions</text>
<rect x="54.3" y="346.4" width="73.15" height="5.6" fill="#22a8de"/>
<text x="90.87" y="344.4" font-size="8.1" text-anchor="middle" fill="#222" stroke="#222" stroke-width="0.1">C&gt;A</text>
<rect x="131.15" y="346.4" width="73.14" height="5.6" fill="#3e4955"/>
<text x="167.72" y="344.4" font-size="8.1" text-anchor="middle" fill="#222" stroke="#222" stroke-width="0.1">C&gt;G</text>
<rect x="208" y="346.4" width="73.14" height="5.6" fill="#d01236"/>
<text x="244.57" y="344.4" font-size="8.1" text-anchor="middle" fill="#222" stroke="#222" stroke-width="0.1">C&gt;T</text>
<rect x="284.84" y="346.4" width="73.14" height="5.6" fill="#bdbcc2"/>
<text x="321.42" y="344.4" font-size="8.1" text-anchor="middle" fill="#222" stroke="#222" stroke-width="0.1">T&gt;A</text>
<rect x="361.69" y="346.4" width="73.14" height="5.6" fill="#3ba84c"/>
<text x="398.26" y="344.4" font-size="8.1" text-anchor="middle" fill="#222" stroke="#222" stroke-width="0.1">T&gt;C</text>
<rect x="438.54" y="346.4" width="73.14" height="5.6" fill="#e3178a"/>
<text x="475.11" y="344.4" font-size="8.1" text-anchor="middle" fill="#222" stroke="#222" stroke-width="0.1">T&gt;G</text>
<line x1="52.6" y1="349.7" x2="52.6" y2="437.8" stroke="#2b2b2b" stroke-width="1.2"/>
<line x1="52" y1="437.2" x2="513.2" y2="437.2" stroke="#2b2b2b" stroke-width="1.2"/>
<line x1="50.1" y1="353" x2="52.6" y2="353" stroke="#2b2b2b" stroke-width="1"/>
<text x="46.4" y="355.4" font-size="8" text-anchor="end" fill="#222" stroke="#222" stroke-width="0.1">3K</text>
<line x1="50.1" y1="374.07" x2="52.6" y2="374.07" stroke="#2b2b2b" stroke-width="1"/>
<text x="46.4" y="376.47" font-size="8" text-anchor="end" fill="#222" stroke="#222" stroke-width="0.1">2K</text>
<line x1="50.1" y1="395.14" x2="52.6" y2="395.14" stroke="#2b2b2b" stroke-width="1"/>
<text x="46.4" y="397.54" font-size="8" text-anchor="end" fill="#222" stroke="#222" stroke-width="0.1">1K</text>
<line x1="50.1" y1="416.21" x2="52.6" y2="416.21" stroke="#2b2b2b" stroke-width="1"/>
<text x="46.4" y="418.61" font-size="8" text-anchor="end" fill="#222" stroke="#222" stroke-width="0.1">1K</text>
<line x1="50.1" y1="437.28" x2="52.6" y2="437.28" stroke="#2b2b2b" stroke-width="1"/>
<text x="46.4" y="439.68" font-size="8" text-anchor="end" fill="#222" stroke="#222" stroke-width="0.1">0</text>
<line x1="54.5" y1="437.2" x2="54.5" y2="439.6" stroke="#2b2b2b" stroke-width="1"/>
<line x1="59.3" y1="437.2" x2="59.3" y2="439.6" stroke="#2b2b2b" stroke-width="1"/>
<line x1="64.11" y1="437.2" x2="64.11" y2="439.6" stroke="#2b2b2b" stroke-width="1"/>
<line x1="68.91" y1="437.2" x2="68.91" y2="439.6" stroke="#2b2b2b" stroke-width="1"/>
<line x1="73.71" y1="437.2" x2="73.71" y2="439.6" stroke="#2b2b2b" stroke-width="1"/>
<line x1="78.52" y1="437.2" x2="78.52" y2="439.6" stroke="#2b2b2b" stroke-width="1"/>
<line x1="83.32" y1="437.2" x2="83.32" y2="439.6" stroke="#2b2b2b" stroke-width="1"/>
<rect x="82.42" y="435.9" width="1.8" height="1.3" fill="#22a8de"/>
<line x1="88.12" y1="437.2" x2="88.12" y2="439.6" stroke="#2b2b2b" stroke-width="1"/>
<line x1="92.92" y1="437.2" x2="92.92" y2="439.6" stroke="#2b2b2b" stroke-width="1"/>
<line x1="97.73" y1="437.2" x2="97.73" y2="439.6" stroke="#2b2b2b" stroke-width="1"/>
<line x1="102.53" y1="437.2" x2="102.53" y2="439.6" stroke="#2b2b2b" stroke-width="1"/>
<line x1="107.33" y1="437.2" x2="107.33" y2="439.6" stroke="#2b2b2b" stroke-width="1"/>
<line x1="112.14" y1="437.2" x2="112.14" y2="439.6" stroke="#2b2b2b" stroke-width="1"/>
<line x1="116.94" y1="437.2" x2="116.94" y2="439.6" stroke="#2b2b2b" stroke-width="1"/>
<line x1="121.74" y1="437.2" x2="121.74" y2="439.6" stroke="#2b2b2b" stroke-width="1"/>
<line x1="126.55" y1="437.2" x2="126.55" y2="439.6" stroke="#2b2b2b" stroke-width="1"/>
<line x1="131.35" y1="437.2" x2="131.35" y2="439.6" stroke="#2b2b2b" stroke-width="1"/>
<rect x="130.45" y="433.1" width="1.8" height="4.1" fill="#333e4a"/>
<line x1="136.15" y1="437.2" x2="136.15" y2="439.6" stroke="#2b2b2b" stroke-width="1"/>
<rect x="135.25" y="431.3" width="1.8" height="5.9" fill="#333e4a"/>
<line x1="140.95" y1="437.2" x2="140.95" y2="439.6" stroke="#2b2b2b" stroke-width="1"/>
<rect x="140.05" y="407.8" width="1.8" height="29.4" fill="#333e4a"/>
<line x1="145.76" y1="437.2" x2="145.76" y2="439.6" stroke="#2b2b2b" stroke-width="1"/>
<rect x="144.86" y="432.4" width="1.8" height="4.8" fill="#333e4a"/>
<line x1="150.56" y1="437.2" x2="150.56" y2="439.6" stroke="#2b2b2b" stroke-width="1"/>
<rect x="149.66" y="431.4" width="1.8" height="5.8" fill="#333e4a"/>
<line x1="155.36" y1="437.2" x2="155.36" y2="439.6" stroke="#2b2b2b" stroke-width="1"/>
<rect x="154.46" y="431.4" width="1.8" height="5.8" fill="#333e4a"/>
<line x1="160.17" y1="437.2" x2="160.17" y2="439.6" stroke="#2b2b2b" stroke-width="1"/>
<rect x="159.27" y="372.4" width="1.8" height="64.8" fill="#333e4a"/>
<line x1="164.97" y1="437.2" x2="164.97" y2="439.6" stroke="#2b2b2b" stroke-width="1"/>
<rect x="164.07" y="430.5" width="1.8" height="6.7" fill="#333e4a"/>
<line x1="169.77" y1="437.2" x2="169.77" y2="439.6" stroke="#2b2b2b" stroke-width="1"/>
<rect x="168.87" y="433.2" width="1.8" height="4" fill="#333e4a"/>
<line x1="174.57" y1="437.2" x2="174.57" y2="439.6" stroke="#2b2b2b" stroke-width="1"/>
<rect x="173.67" y="432.3" width="1.8" height="4.9" fill="#333e4a"/>
<line x1="179.38" y1="437.2" x2="179.38" y2="439.6" stroke="#2b2b2b" stroke-width="1"/>
<rect x="178.48" y="399.4" width="1.8" height="37.8" fill="#333e4a"/>
<line x1="184.18" y1="437.2" x2="184.18" y2="439.6" stroke="#2b2b2b" stroke-width="1"/>
<rect x="183.28" y="432.6" width="1.8" height="4.6" fill="#333e4a"/>
<line x1="188.98" y1="437.2" x2="188.98" y2="439.6" stroke="#2b2b2b" stroke-width="1"/>
<rect x="188.08" y="435.4" width="1.8" height="1.8" fill="#333e4a"/>
<line x1="193.79" y1="437.2" x2="193.79" y2="439.6" stroke="#2b2b2b" stroke-width="1"/>
<rect x="192.89" y="433.1" width="1.8" height="4.1" fill="#333e4a"/>
<line x1="198.59" y1="437.2" x2="198.59" y2="439.6" stroke="#2b2b2b" stroke-width="1"/>
<rect x="197.69" y="415.3" width="1.8" height="21.9" fill="#333e4a"/>
<line x1="203.39" y1="437.2" x2="203.39" y2="439.6" stroke="#2b2b2b" stroke-width="1"/>
<rect x="202.49" y="431.5" width="1.8" height="5.7" fill="#333e4a"/>
<line x1="208.2" y1="437.2" x2="208.2" y2="439.6" stroke="#2b2b2b" stroke-width="1"/>
<line x1="213" y1="437.2" x2="213" y2="439.6" stroke="#2b2b2b" stroke-width="1"/>
<line x1="217.8" y1="437.2" x2="217.8" y2="439.6" stroke="#2b2b2b" stroke-width="1"/>
<line x1="222.6" y1="437.2" x2="222.6" y2="439.6" stroke="#2b2b2b" stroke-width="1"/>
<line x1="227.41" y1="437.2" x2="227.41" y2="439.6" stroke="#2b2b2b" stroke-width="1"/>
<line x1="232.21" y1="437.2" x2="232.21" y2="439.6" stroke="#2b2b2b" stroke-width="1"/>
<line x1="237.01" y1="437.2" x2="237.01" y2="439.6" stroke="#2b2b2b" stroke-width="1"/>
<rect x="236.11" y="435.5" width="1.8" height="1.7" fill="#d01236"/>
<line x1="241.82" y1="437.2" x2="241.82" y2="439.6" stroke="#2b2b2b" stroke-width="1"/>
<line x1="246.62" y1="437.2" x2="246.62" y2="439.6" stroke="#2b2b2b" stroke-width="1"/>
<line x1="251.42" y1="437.2" x2="251.42" y2="439.6" stroke="#2b2b2b" stroke-width="1"/>
<line x1="256.23" y1="437.2" x2="256.23" y2="439.6" stroke="#2b2b2b" stroke-width="1"/>
<line x1="261.03" y1="437.2" x2="261.03" y2="439.6" stroke="#2b2b2b" stroke-width="1"/>
<line x1="265.83" y1="437.2" x2="265.83" y2="439.6" stroke="#2b2b2b" stroke-width="1"/>
<line x1="270.63" y1="437.2" x2="270.63" y2="439.6" stroke="#2b2b2b" stroke-width="1"/>
<line x1="275.44" y1="437.2" x2="275.44" y2="439.6" stroke="#2b2b2b" stroke-width="1"/>
<rect x="274.54" y="435.6" width="1.8" height="1.6" fill="#d01236"/>
<line x1="280.24" y1="437.2" x2="280.24" y2="439.6" stroke="#2b2b2b" stroke-width="1"/>
<line x1="285.04" y1="437.2" x2="285.04" y2="439.6" stroke="#2b2b2b" stroke-width="1"/>
<line x1="289.85" y1="437.2" x2="289.85" y2="439.6" stroke="#2b2b2b" stroke-width="1"/>
<line x1="294.65" y1="437.2" x2="294.65" y2="439.6" stroke="#2b2b2b" stroke-width="1"/>
<line x1="299.45" y1="437.2" x2="299.45" y2="439.6" stroke="#2b2b2b" stroke-width="1"/>
<line x1="304.26" y1="437.2" x2="304.26" y2="439.6" stroke="#2b2b2b" stroke-width="1"/>
<line x1="309.06" y1="437.2" x2="309.06" y2="439.6" stroke="#2b2b2b" stroke-width="1"/>
<line x1="313.86" y1="437.2" x2="313.86" y2="439.6" stroke="#2b2b2b" stroke-width="1"/>
<line x1="318.67" y1="437.2" x2="318.67" y2="439.6" stroke="#2b2b2b" stroke-width="1"/>
<line x1="323.47" y1="437.2" x2="323.47" y2="439.6" stroke="#2b2b2b" stroke-width="1"/>
<line x1="328.27" y1="437.2" x2="328.27" y2="439.6" stroke="#2b2b2b" stroke-width="1"/>
<line x1="333.07" y1="437.2" x2="333.07" y2="439.6" stroke="#2b2b2b" stroke-width="1"/>
<line x1="337.88" y1="437.2" x2="337.88" y2="439.6" stroke="#2b2b2b" stroke-width="1"/>
<line x1="342.68" y1="437.2" x2="342.68" y2="439.6" stroke="#2b2b2b" stroke-width="1"/>
<line x1="347.48" y1="437.2" x2="347.48" y2="439.6" stroke="#2b2b2b" stroke-width="1"/>
<line x1="352.29" y1="437.2" x2="352.29" y2="439.6" stroke="#2b2b2b" stroke-width="1"/>
<line x1="357.09" y1="437.2" x2="357.09" y2="439.6" stroke="#2b2b2b" stroke-width="1"/>
<line x1="361.89" y1="437.2" x2="361.89" y2="439.6" stroke="#2b2b2b" stroke-width="1"/>
<line x1="366.69" y1="437.2" x2="366.69" y2="439.6" stroke="#2b2b2b" stroke-width="1"/>
<line x1="371.5" y1="437.2" x2="371.5" y2="439.6" stroke="#2b2b2b" stroke-width="1"/>
<line x1="376.3" y1="437.2" x2="376.3" y2="439.6" stroke="#2b2b2b" stroke-width="1"/>
<line x1="381.1" y1="437.2" x2="381.1" y2="439.6" stroke="#2b2b2b" stroke-width="1"/>
<line x1="385.91" y1="437.2" x2="385.91" y2="439.6" stroke="#2b2b2b" stroke-width="1"/>
<line x1="390.71" y1="437.2" x2="390.71" y2="439.6" stroke="#2b2b2b" stroke-width="1"/>
<line x1="395.51" y1="437.2" x2="395.51" y2="439.6" stroke="#2b2b2b" stroke-width="1"/>
<line x1="400.32" y1="437.2" x2="400.32" y2="439.6" stroke="#2b2b2b" stroke-width="1"/>
<line x1="405.12" y1="437.2" x2="405.12" y2="439.6" stroke="#2b2b2b" stroke-width="1"/>
<line x1="409.92" y1="437.2" x2="409.92" y2="439.6" stroke="#2b2b2b" stroke-width="1"/>
<line x1="414.73" y1="437.2" x2="414.73" y2="439.6" stroke="#2b2b2b" stroke-width="1"/>
<line x1="419.53" y1="437.2" x2="419.53" y2="439.6" stroke="#2b2b2b" stroke-width="1"/>
<line x1="424.33" y1="437.2" x2="424.33" y2="439.6" stroke="#2b2b2b" stroke-width="1"/>
<line x1="429.13" y1="437.2" x2="429.13" y2="439.6" stroke="#2b2b2b" stroke-width="1"/>
<line x1="433.94" y1="437.2" x2="433.94" y2="439.6" stroke="#2b2b2b" stroke-width="1"/>
<line x1="438.74" y1="437.2" x2="438.74" y2="439.6" stroke="#2b2b2b" stroke-width="1"/>
<line x1="443.54" y1="437.2" x2="443.54" y2="439.6" stroke="#2b2b2b" stroke-width="1"/>
<line x1="448.35" y1="437.2" x2="448.35" y2="439.6" stroke="#2b2b2b" stroke-width="1"/>
<line x1="453.15" y1="437.2" x2="453.15" y2="439.6" stroke="#2b2b2b" stroke-width="1"/>
<line x1="457.95" y1="437.2" x2="457.95" y2="439.6" stroke="#2b2b2b" stroke-width="1"/>
<line x1="462.75" y1="437.2" x2="462.75" y2="439.6" stroke="#2b2b2b" stroke-width="1"/>
<line x1="467.56" y1="437.2" x2="467.56" y2="439.6" stroke="#2b2b2b" stroke-width="1"/>
<line x1="472.36" y1="437.2" x2="472.36" y2="439.6" stroke="#2b2b2b" stroke-width="1"/>
<line x1="477.16" y1="437.2" x2="477.16" y2="439.6" stroke="#2b2b2b" stroke-width="1"/>
<line x1="481.97" y1="437.2" x2="481.97" y2="439.6" stroke="#2b2b2b" stroke-width="1"/>
<line x1="486.77" y1="437.2" x2="486.77" y2="439.6" stroke="#2b2b2b" stroke-width="1"/>
<line x1="491.57" y1="437.2" x2="491.57" y2="439.6" stroke="#2b2b2b" stroke-width="1"/>
<line x1="496.38" y1="437.2" x2="496.38" y2="439.6" stroke="#2b2b2b" stroke-width="1"/>
<line x1="501.18" y1="437.2" x2="501.18" y2="439.6" stroke="#2b2b2b" stroke-width="1"/>
<line x1="505.98" y1="437.2" x2="505.98" y2="439.6" stroke="#2b2b2b" stroke-width="1"/>
<line x1="510.78" y1="437.2" x2="510.78" y2="439.6" stroke="#2b2b2b" stroke-width="1"/>
<g font-size="4.4" text-anchor="end">
<text transform="translate(56 443.5) rotate(-90)" fill="#333">A<tspan fill="#22a8de">C</tspan>A</text>
<text transform="translate(60.8 443.5) rotate(-90)" fill="#333">A<tspan fill="#22a8de">C</tspan>C</text>
<text transform="translate(65.61 443.5) rotate(-90)" fill="#333">A<tspan fill="#22a8de">C</tspan>G</text>
<text transform="translate(70.41 443.5) rotate(-90)" fill="#333">A<tspan fill="#22a8de">C</tspan>T</text>
<text transform="translate(75.21 443.5) rotate(-90)" fill="#333">C<tspan fill="#22a8de">C</tspan>A</text>
<text transform="translate(80.02 443.5) rotate(-90)" fill="#333">C<tspan fill="#22a8de">C</tspan>C</text>
<text transform="translate(84.82 443.5) rotate(-90)" fill="#333">C<tspan fill="#22a8de">C</tspan>G</text>
<text transform="translate(89.62 443.5) rotate(-90)" fill="#333">C<tspan fill="#22a8de">C</tspan>T</text>
<text transform="translate(94.42 443.5) rotate(-90)" fill="#333">G<tspan fill="#22a8de">C</tspan>A</text>
<text transform="translate(99.23 443.5) rotate(-90)" fill="#333">G<tspan fill="#22a8de">C</tspan>C</text>
<text transform="translate(104.03 443.5) rotate(-90)" fill="#333">G<tspan fill="#22a8de">C</tspan>G</text>
<text transform="translate(108.83 443.5) rotate(-90)" fill="#333">G<tspan fill="#22a8de">C</tspan>T</text>
<text transform="translate(113.64 443.5) rotate(-90)" fill="#333">T<tspan fill="#22a8de">C</tspan>A</text>
<text transform="translate(118.44 443.5) rotate(-90)" fill="#333">T<tspan fill="#22a8de">C</tspan>C</text>
<text transform="translate(123.24 443.5) rotate(-90)" fill="#333">T<tspan fill="#22a8de">C</tspan>G</text>
<text transform="translate(128.05 443.5) rotate(-90)" fill="#333">T<tspan fill="#22a8de">C</tspan>T</text>
<text transform="translate(132.85 443.5) rotate(-90)" fill="#333">A<tspan fill="#3e4955">C</tspan>A</text>
<text transform="translate(137.65 443.5) rotate(-90)" fill="#333">A<tspan fill="#3e4955">C</tspan>C</text>
<text transform="translate(142.45 443.5) rotate(-90)" fill="#333">A<tspan fill="#3e4955">C</tspan>G</text>
<text transform="translate(147.26 443.5) rotate(-90)" fill="#333">A<tspan fill="#3e4955">C</tspan>T</text>
<text transform="translate(152.06 443.5) rotate(-90)" fill="#333">C<tspan fill="#3e4955">C</tspan>A</text>
<text transform="translate(156.86 443.5) rotate(-90)" fill="#333">C<tspan fill="#3e4955">C</tspan>C</text>
<text transform="translate(161.67 443.5) rotate(-90)" fill="#333">C<tspan fill="#3e4955">C</tspan>G</text>
<text transform="translate(166.47 443.5) rotate(-90)" fill="#333">C<tspan fill="#3e4955">C</tspan>T</text>
<text transform="translate(171.27 443.5) rotate(-90)" fill="#333">G<tspan fill="#3e4955">C</tspan>A</text>
<text transform="translate(176.07 443.5) rotate(-90)" fill="#333">G<tspan fill="#3e4955">C</tspan>C</text>
<text transform="translate(180.88 443.5) rotate(-90)" fill="#333">G<tspan fill="#3e4955">C</tspan>G</text>
<text transform="translate(185.68 443.5) rotate(-90)" fill="#333">G<tspan fill="#3e4955">C</tspan>T</text>
<text transform="translate(190.48 443.5) rotate(-90)" fill="#333">T<tspan fill="#3e4955">C</tspan>A</text>
<text transform="translate(195.29 443.5) rotate(-90)" fill="#333">T<tspan fill="#3e4955">C</tspan>C</text>
<text transform="translate(200.09 443.5) rotate(-90)" fill="#333">T<tspan fill="#3e4955">C</tspan>G</text>
<text transform="translate(204.89 443.5) rotate(-90)" fill="#333">T<tspan fill="#3e4955">C</tspan>T</text>
<text transform="translate(209.7 443.5) rotate(-90)" fill="#333">A<tspan fill="#d01236">C</tspan>A</text>
<text transform="translate(214.5 443.5) rotate(-90)" fill="#333">A<tspan fill="#d01236">C</tspan>C</text>
<text transform="translate(219.3 443.5) rotate(-90)" fill="#333">A<tspan fill="#d01236">C</tspan>G</text>
<text transform="translate(224.1 443.5) rotate(-90)" fill="#333">A<tspan fill="#d01236">C</tspan>T</text>
<text transform="translate(228.91 443.5) rotate(-90)" fill="#333">C<tspan fill="#d01236">C</tspan>A</text>
<text transform="translate(233.71 443.5) rotate(-90)" fill="#333">C<tspan fill="#d01236">C</tspan>C</text>
<text transform="translate(238.51 443.5) rotate(-90)" fill="#333">C<tspan fill="#d01236">C</tspan>G</text>
<text transform="translate(243.32 443.5) rotate(-90)" fill="#333">C<tspan fill="#d01236">C</tspan>T</text>
<text transform="translate(248.12 443.5) rotate(-90)" fill="#333">G<tspan fill="#d01236">C</tspan>A</text>
<text transform="translate(252.92 443.5) rotate(-90)" fill="#333">G<tspan fill="#d01236">C</tspan>C</text>
<text transform="translate(257.73 443.5) rotate(-90)" fill="#333">G<tspan fill="#d01236">C</tspan>G</text>
<text transform="translate(262.53 443.5) rotate(-90)" fill="#333">G<tspan fill="#d01236">C</tspan>T</text>
<text transform="translate(267.33 443.5) rotate(-90)" fill="#333">T<tspan fill="#d01236">C</tspan>A</text>
<text transform="translate(272.13 443.5) rotate(-90)" fill="#333">T<tspan fill="#d01236">C</tspan>C</text>
<text transform="translate(276.94 443.5) rotate(-90)" fill="#333">T<tspan fill="#d01236">C</tspan>G</text>
<text transform="translate(281.74 443.5) rotate(-90)" fill="#333">T<tspan fill="#d01236">C</tspan>T</text>
<text transform="translate(286.54 443.5) rotate(-90)" fill="#333">A<tspan fill="#bdbcc2">T</tspan>A</text>
<text transform="translate(291.35 443.5) rotate(-90)" fill="#333">A<tspan fill="#bdbcc2">T</tspan>C</text>
<text transform="translate(296.15 443.5) rotate(-90)" fill="#333">A<tspan fill="#bdbcc2">T</tspan>G</text>
<text transform="translate(300.95 443.5) rotate(-90)" fill="#333">A<tspan fill="#bdbcc2">T</tspan>T</text>
<text transform="translate(305.76 443.5) rotate(-90)" fill="#333">C<tspan fill="#bdbcc2">T</tspan>A</text>
<text transform="translate(310.56 443.5) rotate(-90)" fill="#333">C<tspan fill="#bdbcc2">T</tspan>C</text>
<text transform="translate(315.36 443.5) rotate(-90)" fill="#333">C<tspan fill="#bdbcc2">T</tspan>G</text>
<text transform="translate(320.17 443.5) rotate(-90)" fill="#333">C<tspan fill="#bdbcc2">T</tspan>T</text>
<text transform="translate(324.97 443.5) rotate(-90)" fill="#333">G<tspan fill="#bdbcc2">T</tspan>A</text>
<text transform="translate(329.77 443.5) rotate(-90)" fill="#333">G<tspan fill="#bdbcc2">T</tspan>C</text>
<text transform="translate(334.57 443.5) rotate(-90)" fill="#333">G<tspan fill="#bdbcc2">T</tspan>G</text>
<text transform="translate(339.38 443.5) rotate(-90)" fill="#333">G<tspan fill="#bdbcc2">T</tspan>T</text>
<text transform="translate(344.18 443.5) rotate(-90)" fill="#333">T<tspan fill="#bdbcc2">T</tspan>A</text>
<text transform="translate(348.98 443.5) rotate(-90)" fill="#333">T<tspan fill="#bdbcc2">T</tspan>C</text>
<text transform="translate(353.79 443.5) rotate(-90)" fill="#333">T<tspan fill="#bdbcc2">T</tspan>G</text>
<text transform="translate(358.59 443.5) rotate(-90)" fill="#333">T<tspan fill="#bdbcc2">T</tspan>T</text>
<text transform="translate(363.39 443.5) rotate(-90)" fill="#333">A<tspan fill="#3ba84c">T</tspan>A</text>
<text transform="translate(368.19 443.5) rotate(-90)" fill="#333">A<tspan fill="#3ba84c">T</tspan>C</text>
<text transform="translate(373 443.5) rotate(-90)" fill="#333">A<tspan fill="#3ba84c">T</tspan>G</text>
<text transform="translate(377.8 443.5) rotate(-90)" fill="#333">A<tspan fill="#3ba84c">T</tspan>T</text>
<text transform="translate(382.6 443.5) rotate(-90)" fill="#333">C<tspan fill="#3ba84c">T</tspan>A</text>
<text transform="translate(387.41 443.5) rotate(-90)" fill="#333">C<tspan fill="#3ba84c">T</tspan>C</text>
<text transform="translate(392.21 443.5) rotate(-90)" fill="#333">C<tspan fill="#3ba84c">T</tspan>G</text>
<text transform="translate(397.01 443.5) rotate(-90)" fill="#333">C<tspan fill="#3ba84c">T</tspan>T</text>
<text transform="translate(401.82 443.5) rotate(-90)" fill="#333">G<tspan fill="#3ba84c">T</tspan>A</text>
<text transform="translate(406.62 443.5) rotate(-90)" fill="#333">G<tspan fill="#3ba84c">T</tspan>C</text>
<text transform="translate(411.42 443.5) rotate(-90)" fill="#333">G<tspan fill="#3ba84c">T</tspan>G</text>
<text transform="translate(416.23 443.5) rotate(-90)" fill="#333">G<tspan fill="#3ba84c">T</tspan>T</text>
<text transform="translate(421.03 443.5) rotate(-90)" fill="#333">T<tspan fill="#3ba84c">T</tspan>A</text>
<text transform="translate(425.83 443.5) rotate(-90)" fill="#333">T<tspan fill="#3ba84c">T</tspan>C</text>
<text transform="translate(430.63 443.5) rotate(-90)" fill="#333">T<tspan fill="#3ba84c">T</tspan>G</text>
<text transform="translate(435.44 443.5) rotate(-90)" fill="#333">T<tspan fill="#3ba84c">T</tspan>T</text>
<text transform="translate(440.24 443.5) rotate(-90)" fill="#333">A<tspan fill="#e3178a">T</tspan>A</text>
<text transform="translate(445.04 443.5) rotate(-90)" fill="#333">A<tspan fill="#e3178a">T</tspan>C</text>
<text transform="translate(449.85 443.5) rotate(-90)" fill="#333">A<tspan fill="#e3178a">T</tspan>G</text>
<text transform="translate(454.65 443.5) rotate(-90)" fill="#333">A<tspan fill="#e3178a">T</tspan>T</text>
<text transform="translate(459.45 443.5) rotate(-90)" fill="#333">C<tspan fill="#e3178a">T</tspan>A</text>
<text transform="translate(464.25 443.5) rotate(-90)" fill="#333">C<tspan fill="#e3178a">T</tspan>C</text>
<text transform="translate(469.06 443.5) rotate(-90)" fill="#333">C<tspan fill="#e3178a">T</tspan>G</text>
<text transform="translate(473.86 443.5) rotate(-90)" fill="#333">C<tspan fill="#e3178a">T</tspan>T</text>
<text transform="translate(478.66 443.5) rotate(-90)" fill="#333">G<tspan fill="#e3178a">T</tspan>A</text>
<text transform="translate(483.47 443.5) rotate(-90)" fill="#333">G<tspan fill="#e3178a">T</tspan>C</text>
<text transform="translate(488.27 443.5) rotate(-90)" fill="#333">G<tspan fill="#e3178a">T</tspan>G</text>
<text transform="translate(493.07 443.5) rotate(-90)" fill="#333">G<tspan fill="#e3178a">T</tspan>T</text>
<text transform="translate(497.88 443.5) rotate(-90)" fill="#333">T<tspan fill="#e3178a">T</tspan>A</text>
<text transform="translate(502.68 443.5) rotate(-90)" fill="#333">T<tspan fill="#e3178a">T</tspan>C</text>
<text transform="translate(507.48 443.5) rotate(-90)" fill="#333">T<tspan fill="#e3178a">T</tspan>G</text>
<text transform="translate(512.28 443.5) rotate(-90)" fill="#333">T<tspan fill="#e3178a">T</tspan>T</text>
</g>
<text x="55.7" y="365.4" font-size="7.95" text-anchor="start" fill="#222" stroke="#222" stroke-width="0.1">8660_Spleen: 7,175 subs</text>
<text transform="translate(18.95 393.84) rotate(-90) scale(0.8 1)" font-size="8.2" text-anchor="middle" fill="#222">Number of single base</text>
<text transform="translate(31.7 393.84) rotate(-90) scale(0.8 1)" font-size="8.2" text-anchor="middle" fill="#222">substitutions</text>
<path d="M49.5 454.8 V425.5 H129.4 V454.8 Z" fill="none" stroke="#4c9c55" stroke-width="0.9" stroke-dasharray="1.5 1.9"/>
<path d="M51 425.5 H128.4" fill="none" stroke="#5d6b5d" stroke-width="0.9" stroke-dasharray="1.8 1.6"/>
<path d="M205.3 454.8 V425.5 H282.7 V454.8 Z" fill="none" stroke="#4c9c55" stroke-width="0.9" stroke-dasharray="1.5 1.9"/>
<path d="M206.8 425.5 H281.7" fill="none" stroke="#5d6b5d" stroke-width="0.9" stroke-dasharray="1.8 1.6"/>
<path d="M89.8 456.6 H97.2 V465.1 H100.8 L93.5 472 L86.2 465.1 H89.8 Z" fill="#2b7bcc" stroke="#1a4f8f" stroke-width="0.9" stroke-linejoin="miter"/>
<path d="M241.2 456.6 H248.6 V465.1 H252.2 L244.9 471.3 L237.6 465.1 H241.2 Z" fill="#2b7bcc" stroke="#1a4f8f" stroke-width="0.9" stroke-linejoin="miter"/>
<rect x="54.3" y="479.7" width="73.15" height="5.9" fill="#22a8de"/>
<text x="90.87" y="477.7" font-size="8.1" text-anchor="middle" fill="#222" stroke="#222" stroke-width="0.1">C&gt;A</text>
<rect x="131.15" y="479.7" width="73.14" height="5.9" fill="#3e4955"/>
<text x="167.72" y="477.7" font-size="8.1" text-anchor="middle" fill="#222" stroke="#222" stroke-width="0.1">C&gt;G</text>
<rect x="208" y="479.7" width="73.14" height="5.9" fill="#d01236"/>
<text x="244.57" y="477.7" font-size="8.1" text-anchor="middle" fill="#222" stroke="#222" stroke-width="0.1">C&gt;T</text>
<rect x="284.84" y="479.7" width="73.14" height="5.9" fill="#bdbcc2"/>
<text x="321.42" y="477.7" font-size="8.1" text-anchor="middle" fill="#222" stroke="#222" stroke-width="0.1">T&gt;A</text>
<rect x="361.69" y="479.7" width="73.14" height="5.9" fill="#3ba84c"/>
<text x="398.26" y="477.7" font-size="8.1" text-anchor="middle" fill="#222" stroke="#222" stroke-width="0.1">T&gt;C</text>
<rect x="438.54" y="479.7" width="73.14" height="5.9" fill="#e3178a"/>
<text x="475.11" y="477.7" font-size="8.1" text-anchor="middle" fill="#222" stroke="#222" stroke-width="0.1">T&gt;G</text>
<line x1="52.6" y1="483" x2="52.6" y2="571.1" stroke="#2b2b2b" stroke-width="1.2"/>
<line x1="52" y1="570.5" x2="513.2" y2="570.5" stroke="#2b2b2b" stroke-width="1.2"/>
<line x1="50.1" y1="486.3" x2="52.6" y2="486.3" stroke="#2b2b2b" stroke-width="1"/>
<text x="46.4" y="488.7" font-size="8" text-anchor="end" fill="#222" stroke="#222" stroke-width="0.1">103</text>
<line x1="50.1" y1="507.4" x2="52.6" y2="507.4" stroke="#2b2b2b" stroke-width="1"/>
<text x="46.4" y="509.8" font-size="8" text-anchor="end" fill="#222" stroke="#222" stroke-width="0.1">77</text>
<line x1="50.1" y1="528.5" x2="52.6" y2="528.5" stroke="#2b2b2b" stroke-width="1"/>
<text x="46.4" y="530.9" font-size="8" text-anchor="end" fill="#222" stroke="#222" stroke-width="0.1">51</text>
<line x1="50.1" y1="549.6" x2="52.6" y2="549.6" stroke="#2b2b2b" stroke-width="1"/>
<text x="46.4" y="552" font-size="8" text-anchor="end" fill="#222" stroke="#222" stroke-width="0.1">26</text>
<line x1="50.1" y1="570.7" x2="52.6" y2="570.7" stroke="#2b2b2b" stroke-width="1"/>
<text x="46.4" y="573.1" font-size="8" text-anchor="end" fill="#222" stroke="#222" stroke-width="0.1">0</text>
<line x1="54.5" y1="570.5" x2="54.5" y2="572.9" stroke="#2b2b2b" stroke-width="1"/>
<line x1="59.3" y1="570.5" x2="59.3" y2="572.9" stroke="#2b2b2b" stroke-width="1"/>
<line x1="64.11" y1="570.5" x2="64.11" y2="572.9" stroke="#2b2b2b" stroke-width="1"/>
<rect x="63.21" y="544.9" width="1.8" height="25.6" fill="#22a8de"/>
<line x1="68.91" y1="570.5" x2="68.91" y2="572.9" stroke="#2b2b2b" stroke-width="1"/>
<line x1="73.71" y1="570.5" x2="73.71" y2="572.9" stroke="#2b2b2b" stroke-width="1"/>
<line x1="78.52" y1="570.5" x2="78.52" y2="572.9" stroke="#2b2b2b" stroke-width="1"/>
<line x1="83.32" y1="570.5" x2="83.32" y2="572.9" stroke="#2b2b2b" stroke-width="1"/>
<rect x="82.42" y="528.3" width="1.8" height="42.2" fill="#22a8de"/>
<line x1="88.12" y1="570.5" x2="88.12" y2="572.9" stroke="#2b2b2b" stroke-width="1"/>
<line x1="92.92" y1="570.5" x2="92.92" y2="572.9" stroke="#2b2b2b" stroke-width="1"/>
<line x1="97.73" y1="570.5" x2="97.73" y2="572.9" stroke="#2b2b2b" stroke-width="1"/>
<rect x="96.83" y="569" width="1.8" height="1.5" fill="#22a8de"/>
<line x1="102.53" y1="570.5" x2="102.53" y2="572.9" stroke="#2b2b2b" stroke-width="1"/>
<rect x="101.63" y="550.4" width="1.8" height="20.1" fill="#22a8de"/>
<line x1="107.33" y1="570.5" x2="107.33" y2="572.9" stroke="#2b2b2b" stroke-width="1"/>
<rect x="106.43" y="569.3" width="1.8" height="1.2" fill="#22a8de"/>
<line x1="112.14" y1="570.5" x2="112.14" y2="572.9" stroke="#2b2b2b" stroke-width="1"/>
<line x1="116.94" y1="570.5" x2="116.94" y2="572.9" stroke="#2b2b2b" stroke-width="1"/>
<rect x="116.04" y="568" width="1.8" height="2.5" fill="#22a8de"/>
<line x1="121.74" y1="570.5" x2="121.74" y2="572.9" stroke="#2b2b2b" stroke-width="1"/>
<rect x="120.84" y="551.7" width="1.8" height="18.8" fill="#22a8de"/>
<line x1="126.55" y1="570.5" x2="126.55" y2="572.9" stroke="#2b2b2b" stroke-width="1"/>
<line x1="131.35" y1="570.5" x2="131.35" y2="572.9" stroke="#2b2b2b" stroke-width="1"/>
<line x1="136.15" y1="570.5" x2="136.15" y2="572.9" stroke="#2b2b2b" stroke-width="1"/>
<line x1="140.95" y1="570.5" x2="140.95" y2="572.9" stroke="#2b2b2b" stroke-width="1"/>
<line x1="145.76" y1="570.5" x2="145.76" y2="572.9" stroke="#2b2b2b" stroke-width="1"/>
<line x1="150.56" y1="570.5" x2="150.56" y2="572.9" stroke="#2b2b2b" stroke-width="1"/>
<line x1="155.36" y1="570.5" x2="155.36" y2="572.9" stroke="#2b2b2b" stroke-width="1"/>
<line x1="160.17" y1="570.5" x2="160.17" y2="572.9" stroke="#2b2b2b" stroke-width="1"/>
<line x1="164.97" y1="570.5" x2="164.97" y2="572.9" stroke="#2b2b2b" stroke-width="1"/>
<line x1="169.77" y1="570.5" x2="169.77" y2="572.9" stroke="#2b2b2b" stroke-width="1"/>
<line x1="174.57" y1="570.5" x2="174.57" y2="572.9" stroke="#2b2b2b" stroke-width="1"/>
<line x1="179.38" y1="570.5" x2="179.38" y2="572.9" stroke="#2b2b2b" stroke-width="1"/>
<line x1="184.18" y1="570.5" x2="184.18" y2="572.9" stroke="#2b2b2b" stroke-width="1"/>
<line x1="188.98" y1="570.5" x2="188.98" y2="572.9" stroke="#2b2b2b" stroke-width="1"/>
<line x1="193.79" y1="570.5" x2="193.79" y2="572.9" stroke="#2b2b2b" stroke-width="1"/>
<line x1="198.59" y1="570.5" x2="198.59" y2="572.9" stroke="#2b2b2b" stroke-width="1"/>
<line x1="203.39" y1="570.5" x2="203.39" y2="572.9" stroke="#2b2b2b" stroke-width="1"/>
<line x1="208.2" y1="570.5" x2="208.2" y2="572.9" stroke="#2b2b2b" stroke-width="1"/>
<line x1="213" y1="570.5" x2="213" y2="572.9" stroke="#2b2b2b" stroke-width="1"/>
<line x1="217.8" y1="570.5" x2="217.8" y2="572.9" stroke="#2b2b2b" stroke-width="1"/>
<rect x="216.9" y="551.8" width="1.8" height="18.7" fill="#d01236"/>
<line x1="222.6" y1="570.5" x2="222.6" y2="572.9" stroke="#2b2b2b" stroke-width="1"/>
<line x1="227.41" y1="570.5" x2="227.41" y2="572.9" stroke="#2b2b2b" stroke-width="1"/>
<line x1="232.21" y1="570.5" x2="232.21" y2="572.9" stroke="#2b2b2b" stroke-width="1"/>
<rect x="231.31" y="569" width="1.8" height="1.5" fill="#d01236"/>
<line x1="237.01" y1="570.5" x2="237.01" y2="572.9" stroke="#2b2b2b" stroke-width="1"/>
<rect x="236.11" y="506.2" width="1.8" height="64.3" fill="#d01236"/>
<line x1="241.82" y1="570.5" x2="241.82" y2="572.9" stroke="#2b2b2b" stroke-width="1"/>
<line x1="246.62" y1="570.5" x2="246.62" y2="572.9" stroke="#2b2b2b" stroke-width="1"/>
<rect x="245.72" y="569" width="1.8" height="1.5" fill="#d01236"/>
<line x1="251.42" y1="570.5" x2="251.42" y2="572.9" stroke="#2b2b2b" stroke-width="1"/>
<rect x="250.52" y="569" width="1.8" height="1.5" fill="#d01236"/>
<line x1="256.23" y1="570.5" x2="256.23" y2="572.9" stroke="#2b2b2b" stroke-width="1"/>
<rect x="255.33" y="537.9" width="1.8" height="32.6" fill="#d01236"/>
<line x1="261.03" y1="570.5" x2="261.03" y2="572.9" stroke="#2b2b2b" stroke-width="1"/>
<line x1="265.83" y1="570.5" x2="265.83" y2="572.9" stroke="#2b2b2b" stroke-width="1"/>
<line x1="270.63" y1="570.5" x2="270.63" y2="572.9" stroke="#2b2b2b" stroke-width="1"/>
<line x1="275.44" y1="570.5" x2="275.44" y2="572.9" stroke="#2b2b2b" stroke-width="1"/>
<rect x="274.54" y="516.3" width="1.8" height="54.2" fill="#d01236"/>
<line x1="280.24" y1="570.5" x2="280.24" y2="572.9" stroke="#2b2b2b" stroke-width="1"/>
<line x1="285.04" y1="570.5" x2="285.04" y2="572.9" stroke="#2b2b2b" stroke-width="1"/>
<line x1="289.85" y1="570.5" x2="289.85" y2="572.9" stroke="#2b2b2b" stroke-width="1"/>
<line x1="294.65" y1="570.5" x2="294.65" y2="572.9" stroke="#2b2b2b" stroke-width="1"/>
<line x1="299.45" y1="570.5" x2="299.45" y2="572.9" stroke="#2b2b2b" stroke-width="1"/>
<line x1="304.26" y1="570.5" x2="304.26" y2="572.9" stroke="#2b2b2b" stroke-width="1"/>
<line x1="309.06" y1="570.5" x2="309.06" y2="572.9" stroke="#2b2b2b" stroke-width="1"/>
<line x1="313.86" y1="570.5" x2="313.86" y2="572.9" stroke="#2b2b2b" stroke-width="1"/>
<line x1="318.67" y1="570.5" x2="318.67" y2="572.9" stroke="#2b2b2b" stroke-width="1"/>
<line x1="323.47" y1="570.5" x2="323.47" y2="572.9" stroke="#2b2b2b" stroke-width="1"/>
<line x1="328.27" y1="570.5" x2="328.27" y2="572.9" stroke="#2b2b2b" stroke-width="1"/>
<line x1="333.07" y1="570.5" x2="333.07" y2="572.9" stroke="#2b2b2b" stroke-width="1"/>
<line x1="337.88" y1="570.5" x2="337.88" y2="572.9" stroke="#2b2b2b" stroke-width="1"/>
<line x1="342.68" y1="570.5" x2="342.68" y2="572.9" stroke="#2b2b2b" stroke-width="1"/>
<line x1="347.48" y1="570.5" x2="347.48" y2="572.9" stroke="#2b2b2b" stroke-width="1"/>
<line x1="352.29" y1="570.5" x2="352.29" y2="572.9" stroke="#2b2b2b" stroke-width="1"/>
<line x1="357.09" y1="570.5" x2="357.09" y2="572.9" stroke="#2b2b2b" stroke-width="1"/>
<line x1="361.89" y1="570.5" x2="361.89" y2="572.9" stroke="#2b2b2b" stroke-width="1"/>
<line x1="366.69" y1="570.5" x2="366.69" y2="572.9" stroke="#2b2b2b" stroke-width="1"/>
<line x1="371.5" y1="570.5" x2="371.5" y2="572.9" stroke="#2b2b2b" stroke-width="1"/>
<line x1="376.3" y1="570.5" x2="376.3" y2="572.9" stroke="#2b2b2b" stroke-width="1"/>
<line x1="381.1" y1="570.5" x2="381.1" y2="572.9" stroke="#2b2b2b" stroke-width="1"/>
<line x1="385.91" y1="570.5" x2="385.91" y2="572.9" stroke="#2b2b2b" stroke-width="1"/>
<line x1="390.71" y1="570.5" x2="390.71" y2="572.9" stroke="#2b2b2b" stroke-width="1"/>
<line x1="395.51" y1="570.5" x2="395.51" y2="572.9" stroke="#2b2b2b" stroke-width="1"/>
<line x1="400.32" y1="570.5" x2="400.32" y2="572.9" stroke="#2b2b2b" stroke-width="1"/>
<line x1="405.12" y1="570.5" x2="405.12" y2="572.9" stroke="#2b2b2b" stroke-width="1"/>
<line x1="409.92" y1="570.5" x2="409.92" y2="572.9" stroke="#2b2b2b" stroke-width="1"/>
<line x1="414.73" y1="570.5" x2="414.73" y2="572.9" stroke="#2b2b2b" stroke-width="1"/>
<line x1="419.53" y1="570.5" x2="419.53" y2="572.9" stroke="#2b2b2b" stroke-width="1"/>
<line x1="424.33" y1="570.5" x2="424.33" y2="572.9" stroke="#2b2b2b" stroke-width="1"/>
<line x1="429.13" y1="570.5" x2="429.13" y2="572.9" stroke="#2b2b2b" stroke-width="1"/>
<line x1="433.94" y1="570.5" x2="433.94" y2="572.9" stroke="#2b2b2b" stroke-width="1"/>
<line x1="438.74" y1="570.5" x2="438.74" y2="572.9" stroke="#2b2b2b" stroke-width="1"/>
<line x1="443.54" y1="570.5" x2="443.54" y2="572.9" stroke="#2b2b2b" stroke-width="1"/>
<line x1="448.35" y1="570.5" x2="448.35" y2="572.9" stroke="#2b2b2b" stroke-width="1"/>
<line x1="453.15" y1="570.5" x2="453.15" y2="572.9" stroke="#2b2b2b" stroke-width="1"/>
<line x1="457.95" y1="570.5" x2="457.95" y2="572.9" stroke="#2b2b2b" stroke-width="1"/>
<line x1="462.75" y1="570.5" x2="462.75" y2="572.9" stroke="#2b2b2b" stroke-width="1"/>
<line x1="467.56" y1="570.5" x2="467.56" y2="572.9" stroke="#2b2b2b" stroke-width="1"/>
<line x1="472.36" y1="570.5" x2="472.36" y2="572.9" stroke="#2b2b2b" stroke-width="1"/>
<line x1="477.16" y1="570.5" x2="477.16" y2="572.9" stroke="#2b2b2b" stroke-width="1"/>
<line x1="481.97" y1="570.5" x2="481.97" y2="572.9" stroke="#2b2b2b" stroke-width="1"/>
<line x1="486.77" y1="570.5" x2="486.77" y2="572.9" stroke="#2b2b2b" stroke-width="1"/>
<line x1="491.57" y1="570.5" x2="491.57" y2="572.9" stroke="#2b2b2b" stroke-width="1"/>
<line x1="496.38" y1="570.5" x2="496.38" y2="572.9" stroke="#2b2b2b" stroke-width="1"/>
<line x1="501.18" y1="570.5" x2="501.18" y2="572.9" stroke="#2b2b2b" stroke-width="1"/>
<line x1="505.98" y1="570.5" x2="505.98" y2="572.9" stroke="#2b2b2b" stroke-width="1"/>
<line x1="510.78" y1="570.5" x2="510.78" y2="572.9" stroke="#2b2b2b" stroke-width="1"/>
<g font-size="4.4" text-anchor="end">
<text transform="translate(56 576.8) rotate(-90)" fill="#333">A<tspan fill="#22a8de">C</tspan>A</text>
<text transform="translate(60.8 576.8) rotate(-90)" fill="#333">A<tspan fill="#22a8de">C</tspan>C</text>
<text transform="translate(65.61 576.8) rotate(-90)" fill="#333">A<tspan fill="#22a8de">C</tspan>G</text>
<text transform="translate(70.41 576.8) rotate(-90)" fill="#333">A<tspan fill="#22a8de">C</tspan>T</text>
<text transform="translate(75.21 576.8) rotate(-90)" fill="#333">C<tspan fill="#22a8de">C</tspan>A</text>
<text transform="translate(80.02 576.8) rotate(-90)" fill="#333">C<tspan fill="#22a8de">C</tspan>C</text>
<text transform="translate(84.82 576.8) rotate(-90)" fill="#333">C<tspan fill="#22a8de">C</tspan>G</text>
<text transform="translate(89.62 576.8) rotate(-90)" fill="#333">C<tspan fill="#22a8de">C</tspan>T</text>
<text transform="translate(94.42 576.8) rotate(-90)" fill="#333">G<tspan fill="#22a8de">C</tspan>A</text>
<text transform="translate(99.23 576.8) rotate(-90)" fill="#333">G<tspan fill="#22a8de">C</tspan>C</text>
<text transform="translate(104.03 576.8) rotate(-90)" fill="#333">G<tspan fill="#22a8de">C</tspan>G</text>
<text transform="translate(108.83 576.8) rotate(-90)" fill="#333">G<tspan fill="#22a8de">C</tspan>T</text>
<text transform="translate(113.64 576.8) rotate(-90)" fill="#333">T<tspan fill="#22a8de">C</tspan>A</text>
<text transform="translate(118.44 576.8) rotate(-90)" fill="#333">T<tspan fill="#22a8de">C</tspan>C</text>
<text transform="translate(123.24 576.8) rotate(-90)" fill="#333">T<tspan fill="#22a8de">C</tspan>G</text>
<text transform="translate(128.05 576.8) rotate(-90)" fill="#333">T<tspan fill="#22a8de">C</tspan>T</text>
<text transform="translate(132.85 576.8) rotate(-90)" fill="#333">A<tspan fill="#3e4955">C</tspan>A</text>
<text transform="translate(137.65 576.8) rotate(-90)" fill="#333">A<tspan fill="#3e4955">C</tspan>C</text>
<text transform="translate(142.45 576.8) rotate(-90)" fill="#333">A<tspan fill="#3e4955">C</tspan>G</text>
<text transform="translate(147.26 576.8) rotate(-90)" fill="#333">A<tspan fill="#3e4955">C</tspan>T</text>
<text transform="translate(152.06 576.8) rotate(-90)" fill="#333">C<tspan fill="#3e4955">C</tspan>A</text>
<text transform="translate(156.86 576.8) rotate(-90)" fill="#333">C<tspan fill="#3e4955">C</tspan>C</text>
<text transform="translate(161.67 576.8) rotate(-90)" fill="#333">C<tspan fill="#3e4955">C</tspan>G</text>
<text transform="translate(166.47 576.8) rotate(-90)" fill="#333">C<tspan fill="#3e4955">C</tspan>T</text>
<text transform="translate(171.27 576.8) rotate(-90)" fill="#333">G<tspan fill="#3e4955">C</tspan>A</text>
<text transform="translate(176.07 576.8) rotate(-90)" fill="#333">G<tspan fill="#3e4955">C</tspan>C</text>
<text transform="translate(180.88 576.8) rotate(-90)" fill="#333">G<tspan fill="#3e4955">C</tspan>G</text>
<text transform="translate(185.68 576.8) rotate(-90)" fill="#333">G<tspan fill="#3e4955">C</tspan>T</text>
<text transform="translate(190.48 576.8) rotate(-90)" fill="#333">T<tspan fill="#3e4955">C</tspan>A</text>
<text transform="translate(195.29 576.8) rotate(-90)" fill="#333">T<tspan fill="#3e4955">C</tspan>C</text>
<text transform="translate(200.09 576.8) rotate(-90)" fill="#333">T<tspan fill="#3e4955">C</tspan>G</text>
<text transform="translate(204.89 576.8) rotate(-90)" fill="#333">T<tspan fill="#3e4955">C</tspan>T</text>
<text transform="translate(209.7 576.8) rotate(-90)" fill="#333">A<tspan fill="#d01236">C</tspan>A</text>
<text transform="translate(214.5 576.8) rotate(-90)" fill="#333">A<tspan fill="#d01236">C</tspan>C</text>
<text transform="translate(219.3 576.8) rotate(-90)" fill="#333">A<tspan fill="#d01236">C</tspan>G</text>
<text transform="translate(224.1 576.8) rotate(-90)" fill="#333">A<tspan fill="#d01236">C</tspan>T</text>
<text transform="translate(228.91 576.8) rotate(-90)" fill="#333">C<tspan fill="#d01236">C</tspan>A</text>
<text transform="translate(233.71 576.8) rotate(-90)" fill="#333">C<tspan fill="#d01236">C</tspan>C</text>
<text transform="translate(238.51 576.8) rotate(-90)" fill="#333">C<tspan fill="#d01236">C</tspan>G</text>
<text transform="translate(243.32 576.8) rotate(-90)" fill="#333">C<tspan fill="#d01236">C</tspan>T</text>
<text transform="translate(248.12 576.8) rotate(-90)" fill="#333">G<tspan fill="#d01236">C</tspan>A</text>
<text transform="translate(252.92 576.8) rotate(-90)" fill="#333">G<tspan fill="#d01236">C</tspan>C</text>
<text transform="translate(257.73 576.8) rotate(-90)" fill="#333">G<tspan fill="#d01236">C</tspan>G</text>
<text transform="translate(262.53 576.8) rotate(-90)" fill="#333">G<tspan fill="#d01236">C</tspan>T</text>
<text transform="translate(267.33 576.8) rotate(-90)" fill="#333">T<tspan fill="#d01236">C</tspan>A</text>
<text transform="translate(272.13 576.8) rotate(-90)" fill="#333">T<tspan fill="#d01236">C</tspan>C</text>
<text transform="translate(276.94 576.8) rotate(-90)" fill="#333">T<tspan fill="#d01236">C</tspan>G</text>
<text transform="translate(281.74 576.8) rotate(-90)" fill="#333">T<tspan fill="#d01236">C</tspan>T</text>
<text transform="translate(286.54 576.8) rotate(-90)" fill="#333">A<tspan fill="#bdbcc2">T</tspan>A</text>
<text transform="translate(291.35 576.8) rotate(-90)" fill="#333">A<tspan fill="#bdbcc2">T</tspan>C</text>
<text transform="translate(296.15 576.8) rotate(-90)" fill="#333">A<tspan fill="#bdbcc2">T</tspan>G</text>
<text transform="translate(300.95 576.8) rotate(-90)" fill="#333">A<tspan fill="#bdbcc2">T</tspan>T</text>
<text transform="translate(305.76 576.8) rotate(-90)" fill="#333">C<tspan fill="#bdbcc2">T</tspan>A</text>
<text transform="translate(310.56 576.8) rotate(-90)" fill="#333">C<tspan fill="#bdbcc2">T</tspan>C</text>
<text transform="translate(315.36 576.8) rotate(-90)" fill="#333">C<tspan fill="#bdbcc2">T</tspan>G</text>
<text transform="translate(320.17 576.8) rotate(-90)" fill="#333">C<tspan fill="#bdbcc2">T</tspan>T</text>
<text transform="translate(324.97 576.8) rotate(-90)" fill="#333">G<tspan fill="#bdbcc2">T</tspan>A</text>
<text transform="translate(329.77 576.8) rotate(-90)" fill="#333">G<tspan fill="#bdbcc2">T</tspan>C</text>
<text transform="translate(334.57 576.8) rotate(-90)" fill="#333">G<tspan fill="#bdbcc2">T</tspan>G</text>
<text transform="translate(339.38 576.8) rotate(-90)" fill="#333">G<tspan fill="#bdbcc2">T</tspan>T</text>
<text transform="translate(344.18 576.8) rotate(-90)" fill="#333">T<tspan fill="#bdbcc2">T</tspan>A</text>
<text transform="translate(348.98 576.8) rotate(-90)" fill="#333">T<tspan fill="#bdbcc2">T</tspan>C</text>
<text transform="translate(353.79 576.8) rotate(-90)" fill="#333">T<tspan fill="#bdbcc2">T</tspan>G</text>
<text transform="translate(358.59 576.8) rotate(-90)" fill="#333">T<tspan fill="#bdbcc2">T</tspan>T</text>
<text transform="translate(363.39 576.8) rotate(-90)" fill="#333">A<tspan fill="#3ba84c">T</tspan>A</text>
<text transform="translate(368.19 576.8) rotate(-90)" fill="#333">A<tspan fill="#3ba84c">T</tspan>C</text>
<text transform="translate(373 576.8) rotate(-90)" fill="#333">A<tspan fill="#3ba84c">T</tspan>G</text>
<text transform="translate(377.8 576.8) rotate(-90)" fill="#333">A<tspan fill="#3ba84c">T</tspan>T</text>
<text transform="translate(382.6 576.8) rotate(-90)" fill="#333">C<tspan fill="#3ba84c">T</tspan>A</text>
<text transform="translate(387.41 576.8) rotate(-90)" fill="#333">C<tspan fill="#3ba84c">T</tspan>C</text>
<text transform="translate(392.21 576.8) rotate(-90)" fill="#333">C<tspan fill="#3ba84c">T</tspan>G</text>
<text transform="translate(397.01 576.8) rotate(-90)" fill="#333">C<tspan fill="#3ba84c">T</tspan>T</text>
<text transform="translate(401.82 576.8) rotate(-90)" fill="#333">G<tspan fill="#3ba84c">T</tspan>A</text>
<text transform="translate(406.62 576.8) rotate(-90)" fill="#333">G<tspan fill="#3ba84c">T</tspan>C</text>
<text transform="translate(411.42 576.8) rotate(-90)" fill="#333">G<tspan fill="#3ba84c">T</tspan>G</text>
<text transform="translate(416.23 576.8) rotate(-90)" fill="#333">G<tspan fill="#3ba84c">T</tspan>T</text>
<text transform="translate(421.03 576.8) rotate(-90)" fill="#333">T<tspan fill="#3ba84c">T</tspan>A</text>
<text transform="translate(425.83 576.8) rotate(-90)" fill="#333">T<tspan fill="#3ba84c">T</tspan>C</text>
<text transform="translate(430.63 576.8) rotate(-90)" fill="#333">T<tspan fill="#3ba84c">T</tspan>G</text>
<text transform="translate(435.44 576.8) rotate(-90)" fill="#333">T<tspan fill="#3ba84c">T</tspan>T</text>
<text transform="translate(440.24 576.8) rotate(-90)" fill="#333">A<tspan fill="#e3178a">T</tspan>A</text>
<text transform="translate(445.04 576.8) rotate(-90)" fill="#333">A<tspan fill="#e3178a">T</tspan>C</text>
<text transform="translate(449.85 576.8) rotate(-90)" fill="#333">A<tspan fill="#e3178a">T</tspan>G</text>
<text transform="translate(454.65 576.8) rotate(-90)" fill="#333">A<tspan fill="#e3178a">T</tspan>T</text>
<text transform="translate(459.45 576.8) rotate(-90)" fill="#333">C<tspan fill="#e3178a">T</tspan>A</text>
<text transform="translate(464.25 576.8) rotate(-90)" fill="#333">C<tspan fill="#e3178a">T</tspan>C</text>
<text transform="translate(469.06 576.8) rotate(-90)" fill="#333">C<tspan fill="#e3178a">T</tspan>G</text>
<text transform="translate(473.86 576.8) rotate(-90)" fill="#333">C<tspan fill="#e3178a">T</tspan>T</text>
<text transform="translate(478.66 576.8) rotate(-90)" fill="#333">G<tspan fill="#e3178a">T</tspan>A</text>
<text transform="translate(483.47 576.8) rotate(-90)" fill="#333">G<tspan fill="#e3178a">T</tspan>C</text>
<text transform="translate(488.27 576.8) rotate(-90)" fill="#333">G<tspan fill="#e3178a">T</tspan>G</text>
<text transform="translate(493.07 576.8) rotate(-90)" fill="#333">G<tspan fill="#e3178a">T</tspan>T</text>
<text transform="translate(497.88 576.8) rotate(-90)" fill="#333">T<tspan fill="#e3178a">T</tspan>A</text>
<text transform="translate(502.68 576.8) rotate(-90)" fill="#333">T<tspan fill="#e3178a">T</tspan>C</text>
<text transform="translate(507.48 576.8) rotate(-90)" fill="#333">T<tspan fill="#e3178a">T</tspan>G</text>
<text transform="translate(512.28 576.8) rotate(-90)" fill="#333">T<tspan fill="#e3178a">T</tspan>T</text>
</g>
<text x="55.7" y="498.7" font-size="8.15" text-anchor="start" fill="#222" stroke="#222" stroke-width="0.1">8660_Spleen: 364 subs</text>
<text transform="translate(13.9 527.2) rotate(-90) scale(0.8 1)" font-size="8.2" text-anchor="middle" fill="#222">Number of single base</text>
<text transform="translate(26.7 527.2) rotate(-90) scale(0.8 1)" font-size="8.2" text-anchor="middle" fill="#222">substitutions</text>
<rect x="0.5" y="0.5" width="519" height="593" fill="none" stroke="#545454" stroke-width="1"/>
</svg></body></html>
